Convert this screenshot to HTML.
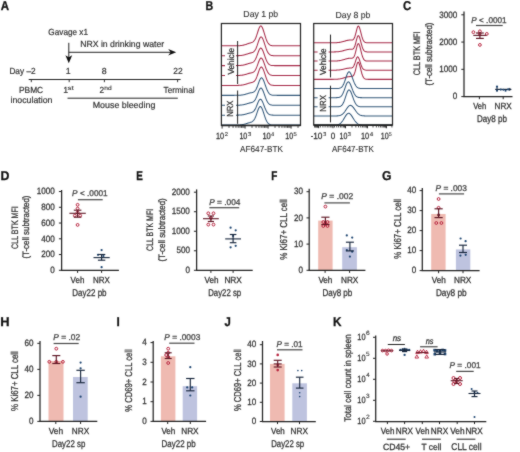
<!DOCTYPE html>
<html><head><meta charset="utf-8"><style>
html,body{margin:0;padding:0;background:#fff;width:520px;height:452px;overflow:hidden}
svg{display:block}
text{font-family:"Liberation Sans",sans-serif;text-rendering:geometricPrecision}
</style></head><body>
<svg width="520" height="452" viewBox="0 0 520 452">
<defs><filter id="soft" x="0" y="0" width="520" height="452" filterUnits="userSpaceOnUse" color-interpolation-filters="sRGB"><feConvolveMatrix order="3" kernelMatrix="1 2 1 2 20 2 1 2 1" edgeMode="duplicate"/></filter></defs>
<g filter="url(#soft)">
<rect width="520" height="452" fill="#fff"/>
<text x="0.71" y="10.30" font-size="12.8" fill="#111" stroke="#111" stroke-width="0.28" textLength="8.30" lengthAdjust="spacingAndGlyphs" font-weight="bold" >A</text>
<text x="48.34" y="34.70" font-size="8.8" fill="#333" stroke="#333" stroke-width="0.2" textLength="39.69" lengthAdjust="spacingAndGlyphs" >Gavage x1</text>
<text x="80.15" y="47.10" font-size="8.8" fill="#333" stroke="#333" stroke-width="0.2" textLength="84.03" lengthAdjust="spacingAndGlyphs" >NRX in drinking water</text>
<line x1="68.80" y1="42.80" x2="68.80" y2="58.50" stroke="#222" stroke-width="1.0" />
<path d="M65.4,55.3 L68.8,57.2 L72.2,55.3 L68.8,63.2 Z" fill="#111"/>
<line x1="68.80" y1="52.30" x2="171.00" y2="52.30" stroke="#222" stroke-width="1.0" />
<path d="M168.2,49.1 L170.6,52.3 L168.2,55.5 L176.2,52.3 Z" fill="#111"/>
<text x="9.39" y="74.00" font-size="8.8" fill="#333" stroke="#333" stroke-width="0.2" textLength="26.20" lengthAdjust="spacingAndGlyphs" >Day –2</text>
<text x="65.73" y="74.10" font-size="8.8" fill="#333" stroke="#333" stroke-width="0.2" textLength="4.89" lengthAdjust="spacingAndGlyphs">1</text>
<text x="101.64" y="74.10" font-size="8.8" fill="#333" stroke="#333" stroke-width="0.2" textLength="4.89" lengthAdjust="spacingAndGlyphs">8</text>
<text x="173.33" y="74.10" font-size="8.8" fill="#333" stroke="#333" stroke-width="0.2" textLength="9.36" lengthAdjust="spacingAndGlyphs" >22</text>
<line x1="28.70" y1="79.50" x2="180.60" y2="79.50" stroke="#222" stroke-width="1.0" />
<line x1="31.30" y1="79.50" x2="31.30" y2="82.20" stroke="#222" stroke-width="0.9" />
<line x1="69.20" y1="79.50" x2="69.20" y2="82.20" stroke="#222" stroke-width="0.9" />
<line x1="104.40" y1="79.50" x2="104.40" y2="82.20" stroke="#222" stroke-width="0.9" />
<line x1="177.60" y1="79.50" x2="177.60" y2="82.20" stroke="#222" stroke-width="0.9" />
<text x="18.98" y="92.90" font-size="8.8" fill="#333" stroke="#333" stroke-width="0.2" textLength="24.20" lengthAdjust="spacingAndGlyphs" >PBMC</text>
<text x="10.48" y="102.90" font-size="8.8" fill="#333" stroke="#333" stroke-width="0.2" textLength="41.95" lengthAdjust="spacingAndGlyphs" >inoculation</text>
<text x="63.33" y="92.60" font-size="8.8" fill="#333" stroke="#333" stroke-width="0.2" textLength="4.89" lengthAdjust="spacingAndGlyphs">1</text>
<text x="67.61" y="89.60" font-size="6.0" fill="#333" stroke="#333" stroke-width="0.12" textLength="6.10" lengthAdjust="spacingAndGlyphs" >st</text>
<text x="99.43" y="92.60" font-size="8.8" fill="#333" stroke="#333" stroke-width="0.2" textLength="4.64" lengthAdjust="spacingAndGlyphs" >2</text>
<text x="104.22" y="89.60" font-size="6.0" fill="#333" stroke="#333" stroke-width="0.12" textLength="7.38" lengthAdjust="spacingAndGlyphs" >nd</text>
<text x="163.59" y="92.80" font-size="8.8" fill="#333" stroke="#333" stroke-width="0.2" textLength="30.93" lengthAdjust="spacingAndGlyphs" >Terminal</text>
<line x1="67.50" y1="98.20" x2="177.80" y2="98.20" stroke="#222" stroke-width="1.0" />
<text x="92.74" y="108.30" font-size="8.8" fill="#333" stroke="#333" stroke-width="0.2" textLength="62.59" lengthAdjust="spacingAndGlyphs" >Mouse bleeding</text>
<text x="205.51" y="10.30" font-size="12.8" fill="#111" stroke="#111" stroke-width="0.28" textLength="7.70" lengthAdjust="spacingAndGlyphs" font-weight="bold" >B</text>
<text x="243.35" y="17.40" font-size="8.8" fill="#333" stroke="#333" stroke-width="0.12" textLength="34.87" lengthAdjust="spacingAndGlyphs" >Day 1 pb</text>
<text x="335.55" y="17.50" font-size="8.8" fill="#333" stroke="#333" stroke-width="0.12" textLength="34.87" lengthAdjust="spacingAndGlyphs" >Day 8 pb</text>
<path d="M222.00,45.80 L222.50,45.80 L223.00,45.80 L223.50,45.80 L224.00,45.80 L224.50,45.80 L225.00,45.80 L225.50,45.80 L226.00,45.80 L226.50,45.80 L227.00,45.80 L227.50,45.80 L228.00,45.80 L228.50,45.80 L229.00,45.80 L229.50,45.80 L230.00,45.80 L230.50,45.80 L231.00,45.80 L231.50,45.80 L232.00,45.80 L232.50,45.80 L233.00,45.80 L233.50,45.80 L234.00,45.80 L234.50,45.79 L235.00,45.79 L235.50,45.79 L236.00,45.78 L236.50,45.78 L237.00,45.77 L237.50,45.76 L238.00,45.74 L238.50,45.72 L239.00,45.70 L239.50,45.67 L240.00,45.64 L240.50,45.59 L241.00,45.54 L241.50,45.48 L242.00,45.41 L242.50,45.32 L243.00,45.23 L243.50,45.12 L244.00,45.00 L244.50,44.86 L245.00,44.71 L245.50,44.56 L246.00,44.39 L246.50,44.22 L247.00,44.04 L247.50,43.86 L248.00,43.69 L248.50,43.52 L249.00,43.35 L249.50,43.20 L250.00,43.05 L250.50,42.90 L251.00,42.75 L251.50,42.59 L252.00,42.40 L252.50,42.16 L253.00,41.86 L253.50,41.47 L254.00,40.96 L254.50,40.30 L255.00,39.48 L255.50,38.47 L256.00,37.29 L256.50,35.93 L257.00,34.44 L257.50,32.87 L258.00,31.27 L258.50,29.74 L259.00,28.36 L259.50,27.22 L260.00,26.40 L260.50,25.96 L261.00,25.93 L261.50,26.29 L262.00,26.99 L262.50,28.00 L263.00,29.26 L263.50,30.73 L264.00,32.32 L264.50,33.97 L265.00,35.61 L265.50,37.19 L266.00,38.67 L266.50,40.00 L267.00,41.17 L267.50,42.18 L268.00,43.02 L268.50,43.71 L269.00,44.26 L269.50,44.68 L270.00,45.00 L270.50,45.25 L271.00,45.42 L271.50,45.55 L272.00,45.63 L272.50,45.69 L273.00,45.73 L273.50,45.76 L274.00,45.77 L274.50,45.78 L275.00,45.79 L275.50,45.79 L276.00,45.80 L276.50,45.80 L277.00,45.80 L277.50,45.80 L278.00,45.80 L278.50,45.80 L279.00,45.80 L279.50,45.80 L280.00,45.80 L280.50,45.80 L281.00,45.80 L281.50,45.80 L282.00,45.80 L282.50,45.80 L283.00,45.80 L283.50,45.80 L284.00,45.80 L284.50,45.80 L285.00,45.80 L285.50,45.80 L286.00,45.80 L286.50,45.80 L287.00,45.80 L287.50,45.80 L288.00,45.80 L288.50,45.80 L289.00,45.80 L289.50,45.80 L290.00,45.80 L290.50,45.80 L291.00,45.80 L291.50,45.80 L292.00,45.80 L292.50,45.80 L293.00,45.80 L293.50,45.80 L294.00,45.80 L294.50,45.80 L295.00,45.80 L295.50,45.80 L296.00,45.80 L296.50,45.80 L297.00,45.80 L297.50,45.80 L298.00,45.80 L298.50,45.80 L299.00,45.80 L299.50,45.80 L300.00,45.80" fill="none" stroke="#a62a48" stroke-width="1.05" stroke-linejoin="round"/>
<path d="M222.00,55.71 L222.50,55.71 L223.00,55.71 L223.50,55.71 L224.00,55.71 L224.50,55.71 L225.00,55.71 L225.50,55.71 L226.00,55.71 L226.50,55.71 L227.00,55.71 L227.50,55.71 L228.00,55.71 L228.50,55.71 L229.00,55.71 L229.50,55.71 L230.00,55.71 L230.50,55.71 L231.00,55.71 L231.50,55.71 L232.00,55.71 L232.50,55.71 L233.00,55.71 L233.50,55.71 L234.00,55.71 L234.50,55.70 L235.00,55.70 L235.50,55.70 L236.00,55.69 L236.50,55.69 L237.00,55.68 L237.50,55.67 L238.00,55.66 L238.50,55.64 L239.00,55.62 L239.50,55.59 L240.00,55.56 L240.50,55.52 L241.00,55.47 L241.50,55.41 L242.00,55.34 L242.50,55.26 L243.00,55.17 L243.50,55.06 L244.00,54.95 L244.50,54.82 L245.00,54.68 L245.50,54.53 L246.00,54.37 L246.50,54.21 L247.00,54.04 L247.50,53.88 L248.00,53.71 L248.50,53.55 L249.00,53.40 L249.50,53.25 L250.00,53.12 L250.50,52.99 L251.00,52.87 L251.50,52.74 L252.00,52.59 L252.50,52.41 L253.00,52.18 L253.50,51.88 L254.00,51.48 L254.50,50.96 L255.00,50.28 L255.50,49.44 L256.00,48.43 L256.50,47.24 L257.00,45.90 L257.50,44.45 L258.00,42.94 L258.50,41.44 L259.00,40.03 L259.50,38.79 L260.00,37.82 L260.50,37.17 L261.00,36.90 L261.50,37.02 L262.00,37.48 L262.50,38.26 L263.00,39.32 L263.50,40.59 L264.00,42.03 L264.50,43.57 L265.00,45.13 L265.50,46.67 L266.00,48.13 L266.50,49.48 L267.00,50.68 L267.50,51.73 L268.00,52.62 L268.50,53.36 L269.00,53.95 L269.50,54.42 L270.00,54.78 L270.50,55.06 L271.00,55.26 L271.50,55.40 L272.00,55.51 L272.50,55.58 L273.00,55.62 L273.50,55.66 L274.00,55.68 L274.50,55.69 L275.00,55.70 L275.50,55.70 L276.00,55.71 L276.50,55.71 L277.00,55.71 L277.50,55.71 L278.00,55.71 L278.50,55.71 L279.00,55.71 L279.50,55.71 L280.00,55.71 L280.50,55.71 L281.00,55.71 L281.50,55.71 L282.00,55.71 L282.50,55.71 L283.00,55.71 L283.50,55.71 L284.00,55.71 L284.50,55.71 L285.00,55.71 L285.50,55.71 L286.00,55.71 L286.50,55.71 L287.00,55.71 L287.50,55.71 L288.00,55.71 L288.50,55.71 L289.00,55.71 L289.50,55.71 L290.00,55.71 L290.50,55.71 L291.00,55.71 L291.50,55.71 L292.00,55.71 L292.50,55.71 L293.00,55.71 L293.50,55.71 L294.00,55.71 L294.50,55.71 L295.00,55.71 L295.50,55.71 L296.00,55.71 L296.50,55.71 L297.00,55.71 L297.50,55.71 L298.00,55.71 L298.50,55.71 L299.00,55.71 L299.50,55.71 L300.00,55.71" fill="none" stroke="#a62a48" stroke-width="1.05" stroke-linejoin="round"/>
<path d="M222.00,65.62 L222.50,65.62 L223.00,65.62 L223.50,65.62 L224.00,65.62 L224.50,65.62 L225.00,65.62 L225.50,65.62 L226.00,65.62 L226.50,65.62 L227.00,65.62 L227.50,65.62 L228.00,65.62 L228.50,65.62 L229.00,65.62 L229.50,65.62 L230.00,65.62 L230.50,65.62 L231.00,65.62 L231.50,65.62 L232.00,65.62 L232.50,65.62 L233.00,65.62 L233.50,65.62 L234.00,65.62 L234.50,65.61 L235.00,65.61 L235.50,65.61 L236.00,65.60 L236.50,65.60 L237.00,65.59 L237.50,65.58 L238.00,65.57 L238.50,65.55 L239.00,65.53 L239.50,65.51 L240.00,65.48 L240.50,65.44 L241.00,65.39 L241.50,65.34 L242.00,65.27 L242.50,65.20 L243.00,65.12 L243.50,65.02 L244.00,64.91 L244.50,64.79 L245.00,64.66 L245.50,64.52 L246.00,64.38 L246.50,64.23 L247.00,64.07 L247.50,63.91 L248.00,63.76 L248.50,63.61 L249.00,63.46 L249.50,63.33 L250.00,63.19 L250.50,63.06 L251.00,62.93 L251.50,62.79 L252.00,62.62 L252.50,62.42 L253.00,62.15 L253.50,61.81 L254.00,61.36 L254.50,60.78 L255.00,60.05 L255.50,59.17 L256.00,58.12 L256.50,56.93 L257.00,55.62 L257.50,54.23 L258.00,52.82 L258.50,51.48 L259.00,50.26 L259.50,49.26 L260.00,48.53 L260.50,48.14 L261.00,48.12 L261.50,48.44 L262.00,49.05 L262.50,49.94 L263.00,51.05 L263.50,52.34 L264.00,53.74 L264.50,55.20 L265.00,56.65 L265.50,58.04 L266.00,59.34 L266.50,60.51 L267.00,61.55 L267.50,62.43 L268.00,63.17 L268.50,63.78 L269.00,64.26 L269.50,64.63 L270.00,64.92 L270.50,65.13 L271.00,65.29 L271.50,65.40 L272.00,65.47 L272.50,65.52 L273.00,65.56 L273.50,65.58 L274.00,65.60 L274.50,65.61 L275.00,65.61 L275.50,65.62 L276.00,65.62 L276.50,65.62 L277.00,65.62 L277.50,65.62 L278.00,65.62 L278.50,65.62 L279.00,65.62 L279.50,65.62 L280.00,65.62 L280.50,65.62 L281.00,65.62 L281.50,65.62 L282.00,65.62 L282.50,65.62 L283.00,65.62 L283.50,65.62 L284.00,65.62 L284.50,65.62 L285.00,65.62 L285.50,65.62 L286.00,65.62 L286.50,65.62 L287.00,65.62 L287.50,65.62 L288.00,65.62 L288.50,65.62 L289.00,65.62 L289.50,65.62 L290.00,65.62 L290.50,65.62 L291.00,65.62 L291.50,65.62 L292.00,65.62 L292.50,65.62 L293.00,65.62 L293.50,65.62 L294.00,65.62 L294.50,65.62 L295.00,65.62 L295.50,65.62 L296.00,65.62 L296.50,65.62 L297.00,65.62 L297.50,65.62 L298.00,65.62 L298.50,65.62 L299.00,65.62 L299.50,65.62 L300.00,65.62" fill="none" stroke="#a62a48" stroke-width="1.05" stroke-linejoin="round"/>
<path d="M222.00,75.53 L222.50,75.53 L223.00,75.53 L223.50,75.53 L224.00,75.53 L224.50,75.53 L225.00,75.53 L225.50,75.53 L226.00,75.53 L226.50,75.53 L227.00,75.53 L227.50,75.53 L228.00,75.53 L228.50,75.53 L229.00,75.53 L229.50,75.53 L230.00,75.53 L230.50,75.53 L231.00,75.53 L231.50,75.53 L232.00,75.53 L232.50,75.53 L233.00,75.53 L233.50,75.53 L234.00,75.53 L234.50,75.52 L235.00,75.52 L235.50,75.52 L236.00,75.51 L236.50,75.51 L237.00,75.50 L237.50,75.49 L238.00,75.48 L238.50,75.46 L239.00,75.44 L239.50,75.42 L240.00,75.39 L240.50,75.35 L241.00,75.30 L241.50,75.25 L242.00,75.18 L242.50,75.11 L243.00,75.03 L243.50,74.93 L244.00,74.82 L244.50,74.70 L245.00,74.57 L245.50,74.43 L246.00,74.29 L246.50,74.14 L247.00,73.98 L247.50,73.83 L248.00,73.67 L248.50,73.52 L249.00,73.38 L249.50,73.25 L250.00,73.12 L250.50,73.00 L251.00,72.89 L251.50,72.77 L252.00,72.63 L252.50,72.47 L253.00,72.25 L253.50,71.97 L254.00,71.60 L254.50,71.12 L255.00,70.49 L255.50,69.71 L256.00,68.77 L256.50,67.66 L257.00,66.42 L257.50,65.07 L258.00,63.67 L258.50,62.27 L259.00,60.96 L259.50,59.81 L260.00,58.91 L260.50,58.31 L261.00,58.06 L261.50,58.17 L262.00,58.60 L262.50,59.32 L263.00,60.30 L263.50,61.49 L264.00,62.82 L264.50,64.25 L265.00,65.70 L265.50,67.13 L266.00,68.49 L266.50,69.74 L267.00,70.86 L267.50,71.83 L268.00,72.66 L268.50,73.34 L269.00,73.90 L269.50,74.33 L270.00,74.67 L270.50,74.92 L271.00,75.11 L271.50,75.25 L272.00,75.34 L272.50,75.41 L273.00,75.45 L273.50,75.48 L274.00,75.50 L274.50,75.51 L275.00,75.52 L275.50,75.52 L276.00,75.53 L276.50,75.53 L277.00,75.53 L277.50,75.53 L278.00,75.53 L278.50,75.53 L279.00,75.53 L279.50,75.53 L280.00,75.53 L280.50,75.53 L281.00,75.53 L281.50,75.53 L282.00,75.53 L282.50,75.53 L283.00,75.53 L283.50,75.53 L284.00,75.53 L284.50,75.53 L285.00,75.53 L285.50,75.53 L286.00,75.53 L286.50,75.53 L287.00,75.53 L287.50,75.53 L288.00,75.53 L288.50,75.53 L289.00,75.53 L289.50,75.53 L290.00,75.53 L290.50,75.53 L291.00,75.53 L291.50,75.53 L292.00,75.53 L292.50,75.53 L293.00,75.53 L293.50,75.53 L294.00,75.53 L294.50,75.53 L295.00,75.53 L295.50,75.53 L296.00,75.53 L296.50,75.53 L297.00,75.53 L297.50,75.53 L298.00,75.53 L298.50,75.53 L299.00,75.53 L299.50,75.53 L300.00,75.53" fill="none" stroke="#a62a48" stroke-width="1.05" stroke-linejoin="round"/>
<path d="M222.00,85.44 L222.50,85.44 L223.00,85.44 L223.50,85.44 L224.00,85.44 L224.50,85.44 L225.00,85.44 L225.50,85.44 L226.00,85.44 L226.50,85.44 L227.00,85.44 L227.50,85.44 L228.00,85.44 L228.50,85.44 L229.00,85.44 L229.50,85.44 L230.00,85.44 L230.50,85.44 L231.00,85.44 L231.50,85.44 L232.00,85.44 L232.50,85.44 L233.00,85.44 L233.50,85.44 L234.00,85.44 L234.50,85.43 L235.00,85.43 L235.50,85.43 L236.00,85.42 L236.50,85.42 L237.00,85.41 L237.50,85.40 L238.00,85.39 L238.50,85.37 L239.00,85.35 L239.50,85.32 L240.00,85.29 L240.50,85.25 L241.00,85.20 L241.50,85.14 L242.00,85.07 L242.50,85.00 L243.00,84.91 L243.50,84.80 L244.00,84.69 L244.50,84.56 L245.00,84.43 L245.50,84.28 L246.00,84.13 L246.50,83.96 L247.00,83.80 L247.50,83.64 L248.00,83.47 L248.50,83.32 L249.00,83.17 L249.50,83.03 L250.00,82.90 L250.50,82.78 L251.00,82.67 L251.50,82.55 L252.00,82.43 L252.50,82.28 L253.00,82.09 L253.50,81.83 L254.00,81.49 L254.50,81.03 L255.00,80.44 L255.50,79.69 L256.00,78.76 L256.50,77.66 L257.00,76.40 L257.50,75.01 L258.00,73.54 L258.50,72.05 L259.00,70.61 L259.50,69.31 L260.00,68.24 L260.50,67.46 L261.00,67.04 L261.50,67.00 L262.00,67.32 L262.50,67.96 L263.00,68.89 L263.50,70.06 L264.00,71.42 L264.50,72.90 L265.00,74.43 L265.50,75.96 L266.00,77.43 L266.50,78.80 L267.00,80.04 L267.50,81.13 L268.00,82.07 L268.50,82.85 L269.00,83.49 L269.50,84.00 L270.00,84.40 L270.50,84.70 L271.00,84.92 L271.50,85.09 L272.00,85.20 L272.50,85.28 L273.00,85.34 L273.50,85.38 L274.00,85.40 L274.50,85.42 L275.00,85.43 L275.50,85.43 L276.00,85.44 L276.50,85.44 L277.00,85.44 L277.50,85.44 L278.00,85.44 L278.50,85.44 L279.00,85.44 L279.50,85.44 L280.00,85.44 L280.50,85.44 L281.00,85.44 L281.50,85.44 L282.00,85.44 L282.50,85.44 L283.00,85.44 L283.50,85.44 L284.00,85.44 L284.50,85.44 L285.00,85.44 L285.50,85.44 L286.00,85.44 L286.50,85.44 L287.00,85.44 L287.50,85.44 L288.00,85.44 L288.50,85.44 L289.00,85.44 L289.50,85.44 L290.00,85.44 L290.50,85.44 L291.00,85.44 L291.50,85.44 L292.00,85.44 L292.50,85.44 L293.00,85.44 L293.50,85.44 L294.00,85.44 L294.50,85.44 L295.00,85.44 L295.50,85.44 L296.00,85.44 L296.50,85.44 L297.00,85.44 L297.50,85.44 L298.00,85.44 L298.50,85.44 L299.00,85.44 L299.50,85.44 L300.00,85.44" fill="none" stroke="#a62a48" stroke-width="1.05" stroke-linejoin="round"/>
<path d="M222.00,95.35 L222.50,95.35 L223.00,95.35 L223.50,95.35 L224.00,95.35 L224.50,95.35 L225.00,95.35 L225.50,95.35 L226.00,95.35 L226.50,95.35 L227.00,95.35 L227.50,95.35 L228.00,95.35 L228.50,95.35 L229.00,95.35 L229.50,95.35 L230.00,95.35 L230.50,95.35 L231.00,95.35 L231.50,95.35 L232.00,95.35 L232.50,95.35 L233.00,95.35 L233.50,95.35 L234.00,95.35 L234.50,95.34 L235.00,95.34 L235.50,95.34 L236.00,95.33 L236.50,95.33 L237.00,95.32 L237.50,95.31 L238.00,95.30 L238.50,95.28 L239.00,95.26 L239.50,95.24 L240.00,95.21 L240.50,95.17 L241.00,95.12 L241.50,95.07 L242.00,95.00 L242.50,94.93 L243.00,94.84 L243.50,94.75 L244.00,94.64 L244.50,94.52 L245.00,94.39 L245.50,94.25 L246.00,94.10 L246.50,93.95 L247.00,93.79 L247.50,93.64 L248.00,93.48 L248.50,93.34 L249.00,93.20 L249.50,93.07 L250.00,92.95 L250.50,92.84 L251.00,92.74 L251.50,92.64 L252.00,92.54 L252.50,92.42 L253.00,92.26 L253.50,92.06 L254.00,91.78 L254.50,91.40 L255.00,90.89 L255.50,90.24 L256.00,89.44 L256.50,88.46 L257.00,87.32 L257.50,86.05 L258.00,84.67 L258.50,83.25 L259.00,81.85 L259.50,80.55 L260.00,79.43 L260.50,78.57 L261.00,78.02 L261.50,77.84 L262.00,78.01 L262.50,78.49 L263.00,79.27 L263.50,80.29 L264.00,81.51 L264.50,82.88 L265.00,84.32 L265.50,85.77 L266.00,87.20 L266.50,88.54 L267.00,89.77 L267.50,90.86 L268.00,91.81 L268.50,92.61 L269.00,93.27 L269.50,93.81 L270.00,94.22 L270.50,94.54 L271.00,94.78 L271.50,94.96 L272.00,95.09 L272.50,95.17 L273.00,95.24 L273.50,95.28 L274.00,95.30 L274.50,95.32 L275.00,95.33 L275.50,95.34 L276.00,95.34 L276.50,95.35 L277.00,95.35 L277.50,95.35 L278.00,95.35 L278.50,95.35 L279.00,95.35 L279.50,95.35 L280.00,95.35 L280.50,95.35 L281.00,95.35 L281.50,95.35 L282.00,95.35 L282.50,95.35 L283.00,95.35 L283.50,95.35 L284.00,95.35 L284.50,95.35 L285.00,95.35 L285.50,95.35 L286.00,95.35 L286.50,95.35 L287.00,95.35 L287.50,95.35 L288.00,95.35 L288.50,95.35 L289.00,95.35 L289.50,95.35 L290.00,95.35 L290.50,95.35 L291.00,95.35 L291.50,95.35 L292.00,95.35 L292.50,95.35 L293.00,95.35 L293.50,95.35 L294.00,95.35 L294.50,95.35 L295.00,95.35 L295.50,95.35 L296.00,95.35 L296.50,95.35 L297.00,95.35 L297.50,95.35 L298.00,95.35 L298.50,95.35 L299.00,95.35 L299.50,95.35 L300.00,95.35" fill="none" stroke="#33587a" stroke-width="1.05" stroke-linejoin="round"/>
<path d="M222.00,105.26 L222.50,105.26 L223.00,105.26 L223.50,105.26 L224.00,105.26 L224.50,105.26 L225.00,105.26 L225.50,105.26 L226.00,105.26 L226.50,105.26 L227.00,105.26 L227.50,105.26 L228.00,105.26 L228.50,105.26 L229.00,105.26 L229.50,105.26 L230.00,105.26 L230.50,105.26 L231.00,105.26 L231.50,105.26 L232.00,105.26 L232.50,105.26 L233.00,105.26 L233.50,105.26 L234.00,105.26 L234.50,105.25 L235.00,105.25 L235.50,105.25 L236.00,105.25 L236.50,105.24 L237.00,105.23 L237.50,105.22 L238.00,105.21 L238.50,105.19 L239.00,105.17 L239.50,105.15 L240.00,105.12 L240.50,105.08 L241.00,105.04 L241.50,104.98 L242.00,104.92 L242.50,104.85 L243.00,104.76 L243.50,104.67 L244.00,104.56 L244.50,104.45 L245.00,104.32 L245.50,104.18 L246.00,104.04 L246.50,103.89 L247.00,103.74 L247.50,103.59 L248.00,103.43 L248.50,103.29 L249.00,103.15 L249.50,103.01 L250.00,102.88 L250.50,102.76 L251.00,102.64 L251.50,102.50 L252.00,102.35 L252.50,102.16 L253.00,101.92 L253.50,101.60 L254.00,101.19 L254.50,100.65 L255.00,99.97 L255.50,99.14 L256.00,98.14 L256.50,97.00 L257.00,95.73 L257.50,94.38 L258.00,92.99 L258.50,91.65 L259.00,90.42 L259.50,89.39 L260.00,88.61 L260.50,88.16 L261.00,88.06 L261.50,88.31 L262.00,88.85 L262.50,89.67 L263.00,90.73 L263.50,91.96 L264.00,93.32 L264.50,94.74 L265.00,96.17 L265.50,97.55 L266.00,98.84 L266.50,100.02 L267.00,101.07 L267.50,101.97 L268.00,102.72 L268.50,103.34 L269.00,103.84 L269.50,104.23 L270.00,104.52 L270.50,104.74 L271.00,104.91 L271.50,105.02 L272.00,105.10 L272.50,105.16 L273.00,105.20 L273.50,105.22 L274.00,105.24 L274.50,105.25 L275.00,105.25 L275.50,105.25 L276.00,105.26 L276.50,105.26 L277.00,105.26 L277.50,105.26 L278.00,105.26 L278.50,105.26 L279.00,105.26 L279.50,105.26 L280.00,105.26 L280.50,105.26 L281.00,105.26 L281.50,105.26 L282.00,105.26 L282.50,105.26 L283.00,105.26 L283.50,105.26 L284.00,105.26 L284.50,105.26 L285.00,105.26 L285.50,105.26 L286.00,105.26 L286.50,105.26 L287.00,105.26 L287.50,105.26 L288.00,105.26 L288.50,105.26 L289.00,105.26 L289.50,105.26 L290.00,105.26 L290.50,105.26 L291.00,105.26 L291.50,105.26 L292.00,105.26 L292.50,105.26 L293.00,105.26 L293.50,105.26 L294.00,105.26 L294.50,105.26 L295.00,105.26 L295.50,105.26 L296.00,105.26 L296.50,105.26 L297.00,105.26 L297.50,105.26 L298.00,105.26 L298.50,105.26 L299.00,105.26 L299.50,105.26 L300.00,105.26" fill="none" stroke="#33587a" stroke-width="1.05" stroke-linejoin="round"/>
<path d="M222.00,115.17 L222.50,115.17 L223.00,115.17 L223.50,115.17 L224.00,115.17 L224.50,115.17 L225.00,115.17 L225.50,115.17 L226.00,115.17 L226.50,115.17 L227.00,115.17 L227.50,115.17 L228.00,115.17 L228.50,115.17 L229.00,115.17 L229.50,115.17 L230.00,115.17 L230.50,115.17 L231.00,115.17 L231.50,115.17 L232.00,115.17 L232.50,115.17 L233.00,115.17 L233.50,115.17 L234.00,115.17 L234.50,115.16 L235.00,115.16 L235.50,115.16 L236.00,115.16 L236.50,115.15 L237.00,115.14 L237.50,115.14 L238.00,115.12 L238.50,115.11 L239.00,115.09 L239.50,115.07 L240.00,115.04 L240.50,115.01 L241.00,114.96 L241.50,114.92 L242.00,114.86 L242.50,114.79 L243.00,114.71 L243.50,114.63 L244.00,114.53 L244.50,114.42 L245.00,114.30 L245.50,114.18 L246.00,114.04 L246.50,113.91 L247.00,113.77 L247.50,113.62 L248.00,113.48 L248.50,113.34 L249.00,113.21 L249.50,113.07 L250.00,112.94 L250.50,112.81 L251.00,112.66 L251.50,112.50 L252.00,112.30 L252.50,112.06 L253.00,111.74 L253.50,111.34 L254.00,110.82 L254.50,110.18 L255.00,109.40 L255.50,108.48 L256.00,107.41 L256.50,106.24 L257.00,104.99 L257.50,103.72 L258.00,102.49 L258.50,101.36 L259.00,100.41 L259.50,99.71 L260.00,99.30 L260.50,99.23 L261.00,99.46 L261.50,99.97 L262.00,100.74 L262.50,101.72 L263.00,102.86 L263.50,104.12 L264.00,105.44 L264.50,106.76 L265.00,108.04 L265.50,109.24 L266.00,110.33 L266.50,111.30 L267.00,112.13 L267.50,112.83 L268.00,113.40 L268.50,113.86 L269.00,114.21 L269.50,114.49 L270.00,114.69 L270.50,114.84 L271.00,114.95 L271.50,115.02 L272.00,115.08 L272.50,115.11 L273.00,115.13 L273.50,115.15 L274.00,115.16 L274.50,115.16 L275.00,115.17 L275.50,115.17 L276.00,115.17 L276.50,115.17 L277.00,115.17 L277.50,115.17 L278.00,115.17 L278.50,115.17 L279.00,115.17 L279.50,115.17 L280.00,115.17 L280.50,115.17 L281.00,115.17 L281.50,115.17 L282.00,115.17 L282.50,115.17 L283.00,115.17 L283.50,115.17 L284.00,115.17 L284.50,115.17 L285.00,115.17 L285.50,115.17 L286.00,115.17 L286.50,115.17 L287.00,115.17 L287.50,115.17 L288.00,115.17 L288.50,115.17 L289.00,115.17 L289.50,115.17 L290.00,115.17 L290.50,115.17 L291.00,115.17 L291.50,115.17 L292.00,115.17 L292.50,115.17 L293.00,115.17 L293.50,115.17 L294.00,115.17 L294.50,115.17 L295.00,115.17 L295.50,115.17 L296.00,115.17 L296.50,115.17 L297.00,115.17 L297.50,115.17 L298.00,115.17 L298.50,115.17 L299.00,115.17 L299.50,115.17 L300.00,115.17" fill="none" stroke="#33587a" stroke-width="1.05" stroke-linejoin="round"/>
<path d="M222.00,125.08 L222.50,125.08 L223.00,125.08 L223.50,125.08 L224.00,125.08 L224.50,125.08 L225.00,125.08 L225.50,125.08 L226.00,125.08 L226.50,125.08 L227.00,125.08 L227.50,125.08 L228.00,125.08 L228.50,125.08 L229.00,125.08 L229.50,125.08 L230.00,125.08 L230.50,125.08 L231.00,125.08 L231.50,125.08 L232.00,125.08 L232.50,125.08 L233.00,125.08 L233.50,125.08 L234.00,125.08 L234.50,125.07 L235.00,125.07 L235.50,125.07 L236.00,125.06 L236.50,125.06 L237.00,125.05 L237.50,125.04 L238.00,125.03 L238.50,125.01 L239.00,124.99 L239.50,124.96 L240.00,124.93 L240.50,124.89 L241.00,124.84 L241.50,124.78 L242.00,124.72 L242.50,124.64 L243.00,124.55 L243.50,124.45 L244.00,124.33 L244.50,124.21 L245.00,124.07 L245.50,123.93 L246.00,123.77 L246.50,123.61 L247.00,123.45 L247.50,123.28 L248.00,123.11 L248.50,122.95 L249.00,122.79 L249.50,122.63 L250.00,122.48 L250.50,122.31 L251.00,122.14 L251.50,121.94 L252.00,121.69 L252.50,121.39 L253.00,121.00 L253.50,120.50 L254.00,119.87 L254.50,119.09 L255.00,118.14 L255.50,117.03 L256.00,115.77 L256.50,114.39 L257.00,112.92 L257.50,111.45 L258.00,110.03 L258.50,108.76 L259.00,107.71 L259.50,106.96 L260.00,106.56 L260.50,106.55 L261.00,106.90 L261.50,107.55 L262.00,108.50 L262.50,109.68 L263.00,111.05 L263.50,112.53 L264.00,114.07 L264.50,115.60 L265.00,117.08 L265.50,118.45 L266.00,119.69 L266.50,120.78 L267.00,121.72 L267.50,122.50 L268.00,123.14 L268.50,123.64 L269.00,124.04 L269.50,124.34 L270.00,124.56 L270.50,124.73 L271.00,124.84 L271.50,124.92 L272.00,124.98 L272.50,125.02 L273.00,125.04 L273.50,125.06 L274.00,125.07 L274.50,125.07 L275.00,125.08 L275.50,125.08 L276.00,125.08 L276.50,125.08 L277.00,125.08 L277.50,125.08 L278.00,125.08 L278.50,125.08 L279.00,125.08 L279.50,125.08 L280.00,125.08 L280.50,125.08 L281.00,125.08 L281.50,125.08 L282.00,125.08 L282.50,125.08 L283.00,125.08 L283.50,125.08 L284.00,125.08 L284.50,125.08 L285.00,125.08 L285.50,125.08 L286.00,125.08 L286.50,125.08 L287.00,125.08 L287.50,125.08 L288.00,125.08 L288.50,125.08 L289.00,125.08 L289.50,125.08 L290.00,125.08 L290.50,125.08 L291.00,125.08 L291.50,125.08 L292.00,125.08 L292.50,125.08 L293.00,125.08 L293.50,125.08 L294.00,125.08 L294.50,125.08 L295.00,125.08 L295.50,125.08 L296.00,125.08 L296.50,125.08 L297.00,125.08 L297.50,125.08 L298.00,125.08 L298.50,125.08 L299.00,125.08 L299.50,125.08 L300.00,125.08" fill="none" stroke="#33587a" stroke-width="1.05" stroke-linejoin="round"/>
<path d="M314.00,42.80 L314.50,42.80 L315.00,42.80 L315.50,42.80 L316.00,42.80 L316.50,42.80 L317.00,42.80 L317.50,42.80 L318.00,42.80 L318.50,42.80 L319.00,42.80 L319.50,42.80 L320.00,42.80 L320.50,42.80 L321.00,42.80 L321.50,42.80 L322.00,42.80 L322.50,42.80 L323.00,42.80 L323.50,42.80 L324.00,42.80 L324.50,42.80 L325.00,42.80 L325.50,42.80 L326.00,42.80 L326.50,42.80 L327.00,42.80 L327.50,42.80 L328.00,42.80 L328.50,42.80 L329.00,42.80 L329.50,42.80 L330.00,42.80 L330.50,42.79 L331.00,42.79 L331.50,42.79 L332.00,42.79 L332.50,42.78 L333.00,42.78 L333.50,42.77 L334.00,42.76 L334.50,42.75 L335.00,42.73 L335.50,42.72 L336.00,42.69 L336.50,42.67 L337.00,42.63 L337.50,42.60 L338.00,42.55 L338.50,42.50 L339.00,42.43 L339.50,42.36 L340.00,42.28 L340.50,42.19 L341.00,42.09 L341.50,41.98 L342.00,41.86 L342.50,41.73 L343.00,41.60 L343.50,41.46 L344.00,41.31 L344.50,41.16 L345.00,41.01 L345.50,40.87 L346.00,40.73 L346.50,40.59 L347.00,40.47 L347.50,40.36 L348.00,40.27 L348.50,40.20 L349.00,40.14 L349.50,40.10 L350.00,40.09 L350.50,40.08 L351.00,40.09 L351.50,40.08 L352.00,40.04 L352.50,39.93 L353.00,39.69 L353.50,39.26 L354.00,38.57 L354.50,37.56 L355.00,36.20 L355.50,34.49 L356.00,32.54 L356.50,30.51 L357.00,28.61 L357.50,27.11 L358.00,26.22 L358.50,26.09 L359.00,26.64 L359.50,27.76 L360.00,29.33 L360.50,31.19 L361.00,33.18 L361.50,35.13 L362.00,36.91 L362.50,38.45 L363.00,39.71 L363.50,40.68 L364.00,41.40 L364.50,41.91 L365.00,42.25 L365.50,42.47 L366.00,42.60 L366.50,42.69 L367.00,42.73 L367.50,42.76 L368.00,42.78 L368.50,42.79 L369.00,42.79 L369.50,42.79 L370.00,42.80 L370.50,42.80 L371.00,42.80 L371.50,42.80 L372.00,42.80 L372.50,42.80 L373.00,42.80 L373.50,42.80 L374.00,42.80 L374.50,42.80 L375.00,42.80 L375.50,42.80 L376.00,42.80 L376.50,42.80 L377.00,42.80 L377.50,42.80 L378.00,42.80 L378.50,42.80 L379.00,42.80 L379.50,42.80 L380.00,42.80 L380.50,42.80 L381.00,42.80 L381.50,42.80 L382.00,42.80 L382.50,42.80 L383.00,42.80 L383.50,42.80 L384.00,42.80 L384.50,42.80 L385.00,42.80 L385.50,42.80 L386.00,42.80 L386.50,42.80 L387.00,42.80 L387.50,42.80 L388.00,42.80 L388.50,42.80 L389.00,42.80 L389.50,42.80 L390.00,42.80 L390.50,42.80 L391.00,42.80 L391.50,42.80 L392.00,42.80" fill="none" stroke="#a62a48" stroke-width="1.05" stroke-linejoin="round"/>
<path d="M314.00,51.94 L314.50,51.94 L315.00,51.94 L315.50,51.94 L316.00,51.94 L316.50,51.94 L317.00,51.94 L317.50,51.94 L318.00,51.94 L318.50,51.94 L319.00,51.94 L319.50,51.94 L320.00,51.94 L320.50,51.94 L321.00,51.94 L321.50,51.94 L322.00,51.94 L322.50,51.94 L323.00,51.94 L323.50,51.94 L324.00,51.94 L324.50,51.94 L325.00,51.94 L325.50,51.94 L326.00,51.94 L326.50,51.94 L327.00,51.94 L327.50,51.94 L328.00,51.94 L328.50,51.94 L329.00,51.94 L329.50,51.94 L330.00,51.94 L330.50,51.94 L331.00,51.94 L331.50,51.93 L332.00,51.93 L332.50,51.93 L333.00,51.92 L333.50,51.91 L334.00,51.91 L334.50,51.89 L335.00,51.88 L335.50,51.86 L336.00,51.84 L336.50,51.81 L337.00,51.78 L337.50,51.74 L338.00,51.70 L338.50,51.65 L339.00,51.59 L339.50,51.52 L340.00,51.44 L340.50,51.35 L341.00,51.25 L341.50,51.15 L342.00,51.03 L342.50,50.90 L343.00,50.77 L343.50,50.63 L344.00,50.49 L344.50,50.35 L345.00,50.20 L345.50,50.06 L346.00,49.92 L346.50,49.79 L347.00,49.67 L347.50,49.57 L348.00,49.48 L348.50,49.40 L349.00,49.35 L349.50,49.32 L350.00,49.30 L350.50,49.30 L351.00,49.30 L351.50,49.29 L352.00,49.25 L352.50,49.14 L353.00,48.91 L353.50,48.49 L354.00,47.82 L354.50,46.84 L355.00,45.51 L355.50,43.84 L356.00,41.94 L356.50,39.96 L357.00,38.11 L357.50,36.65 L358.00,35.78 L358.50,35.66 L359.00,36.19 L359.50,37.28 L360.00,38.81 L360.50,40.63 L361.00,42.56 L361.50,44.46 L362.00,46.20 L362.50,47.71 L363.00,48.93 L363.50,49.88 L364.00,50.58 L364.50,51.07 L365.00,51.40 L365.50,51.62 L366.00,51.75 L366.50,51.83 L367.00,51.88 L367.50,51.91 L368.00,51.92 L368.50,51.93 L369.00,51.94 L369.50,51.94 L370.00,51.94 L370.50,51.94 L371.00,51.94 L371.50,51.94 L372.00,51.94 L372.50,51.94 L373.00,51.94 L373.50,51.94 L374.00,51.94 L374.50,51.94 L375.00,51.94 L375.50,51.94 L376.00,51.94 L376.50,51.94 L377.00,51.94 L377.50,51.94 L378.00,51.94 L378.50,51.94 L379.00,51.94 L379.50,51.94 L380.00,51.94 L380.50,51.94 L381.00,51.94 L381.50,51.94 L382.00,51.94 L382.50,51.94 L383.00,51.94 L383.50,51.94 L384.00,51.94 L384.50,51.94 L385.00,51.94 L385.50,51.94 L386.00,51.94 L386.50,51.94 L387.00,51.94 L387.50,51.94 L388.00,51.94 L388.50,51.94 L389.00,51.94 L389.50,51.94 L390.00,51.94 L390.50,51.94 L391.00,51.94 L391.50,51.94 L392.00,51.94" fill="none" stroke="#a62a48" stroke-width="1.05" stroke-linejoin="round"/>
<path d="M314.00,61.09 L314.50,61.09 L315.00,61.09 L315.50,61.09 L316.00,61.09 L316.50,61.09 L317.00,61.09 L317.50,61.09 L318.00,61.09 L318.50,61.09 L319.00,61.09 L319.50,61.09 L320.00,61.09 L320.50,61.09 L321.00,61.09 L321.50,61.09 L322.00,61.09 L322.50,61.09 L323.00,61.09 L323.50,61.09 L324.00,61.09 L324.50,61.09 L325.00,61.09 L325.50,61.09 L326.00,61.09 L326.50,61.09 L327.00,61.09 L327.50,61.09 L328.00,61.09 L328.50,61.09 L329.00,61.09 L329.50,61.09 L330.00,61.08 L330.50,61.08 L331.00,61.08 L331.50,61.08 L332.00,61.07 L332.50,61.07 L333.00,61.06 L333.50,61.06 L334.00,61.05 L334.50,61.03 L335.00,61.02 L335.50,61.00 L336.00,60.98 L336.50,60.95 L337.00,60.92 L337.50,60.87 L338.00,60.83 L338.50,60.77 L339.00,60.71 L339.50,60.63 L340.00,60.55 L340.50,60.45 L341.00,60.35 L341.50,60.23 L342.00,60.11 L342.50,59.97 L343.00,59.83 L343.50,59.68 L344.00,59.53 L344.50,59.38 L345.00,59.22 L345.50,59.07 L346.00,58.92 L346.50,58.78 L347.00,58.66 L347.50,58.54 L348.00,58.45 L348.50,58.37 L349.00,58.31 L349.50,58.27 L350.00,58.25 L350.50,58.25 L351.00,58.25 L351.50,58.25 L352.00,58.21 L352.50,58.09 L353.00,57.84 L353.50,57.39 L354.00,56.68 L354.50,55.62 L355.00,54.19 L355.50,52.41 L356.00,50.38 L356.50,48.25 L357.00,46.28 L357.50,44.71 L358.00,43.78 L358.50,43.65 L359.00,44.22 L359.50,45.38 L360.00,47.02 L360.50,48.97 L361.00,51.04 L361.50,53.08 L362.00,54.94 L362.50,56.55 L363.00,57.86 L363.50,58.88 L364.00,59.63 L364.50,60.15 L365.00,60.51 L365.50,60.74 L366.00,60.88 L366.50,60.97 L367.00,61.02 L367.50,61.05 L368.00,61.06 L368.50,61.07 L369.00,61.08 L369.50,61.08 L370.00,61.08 L370.50,61.09 L371.00,61.09 L371.50,61.09 L372.00,61.09 L372.50,61.09 L373.00,61.09 L373.50,61.09 L374.00,61.09 L374.50,61.09 L375.00,61.09 L375.50,61.09 L376.00,61.09 L376.50,61.09 L377.00,61.09 L377.50,61.09 L378.00,61.09 L378.50,61.09 L379.00,61.09 L379.50,61.09 L380.00,61.09 L380.50,61.09 L381.00,61.09 L381.50,61.09 L382.00,61.09 L382.50,61.09 L383.00,61.09 L383.50,61.09 L384.00,61.09 L384.50,61.09 L385.00,61.09 L385.50,61.09 L386.00,61.09 L386.50,61.09 L387.00,61.09 L387.50,61.09 L388.00,61.09 L388.50,61.09 L389.00,61.09 L389.50,61.09 L390.00,61.09 L390.50,61.09 L391.00,61.09 L391.50,61.09 L392.00,61.09" fill="none" stroke="#a62a48" stroke-width="1.05" stroke-linejoin="round"/>
<path d="M314.00,70.23 L314.50,70.23 L315.00,70.23 L315.50,70.23 L316.00,70.23 L316.50,70.23 L317.00,70.23 L317.50,70.23 L318.00,70.23 L318.50,70.23 L319.00,70.23 L319.50,70.23 L320.00,70.23 L320.50,70.23 L321.00,70.23 L321.50,70.23 L322.00,70.23 L322.50,70.23 L323.00,70.23 L323.50,70.23 L324.00,70.23 L324.50,70.23 L325.00,70.23 L325.50,70.23 L326.00,70.23 L326.50,70.23 L327.00,70.23 L327.50,70.23 L328.00,70.23 L328.50,70.23 L329.00,70.23 L329.50,70.23 L330.00,70.23 L330.50,70.23 L331.00,70.23 L331.50,70.22 L332.00,70.22 L332.50,70.22 L333.00,70.21 L333.50,70.21 L334.00,70.20 L334.50,70.19 L335.00,70.18 L335.50,70.17 L336.00,70.15 L336.50,70.13 L337.00,70.10 L337.50,70.07 L338.00,70.03 L338.50,69.99 L339.00,69.94 L339.50,69.89 L340.00,69.82 L340.50,69.75 L341.00,69.67 L341.50,69.58 L342.00,69.49 L342.50,69.39 L343.00,69.28 L343.50,69.17 L344.00,69.05 L344.50,68.93 L345.00,68.82 L345.50,68.70 L346.00,68.59 L346.50,68.48 L347.00,68.39 L347.50,68.30 L348.00,68.23 L348.50,68.17 L349.00,68.12 L349.50,68.09 L350.00,68.06 L350.50,68.04 L351.00,68.00 L351.50,67.93 L352.00,67.79 L352.50,67.53 L353.00,67.10 L353.50,66.45 L354.00,65.52 L354.50,64.32 L355.00,62.88 L355.50,61.29 L356.00,59.70 L356.50,58.31 L357.00,57.30 L357.50,56.84 L358.00,56.98 L358.50,57.61 L359.00,58.66 L359.50,60.03 L360.00,61.57 L360.50,63.16 L361.00,64.67 L361.50,66.02 L362.00,67.16 L362.50,68.08 L363.00,68.77 L363.50,69.27 L364.00,69.62 L364.50,69.85 L365.00,70.00 L365.50,70.09 L366.00,70.15 L366.50,70.18 L367.00,70.20 L367.50,70.21 L368.00,70.22 L368.50,70.22 L369.00,70.23 L369.50,70.23 L370.00,70.23 L370.50,70.23 L371.00,70.23 L371.50,70.23 L372.00,70.23 L372.50,70.23 L373.00,70.23 L373.50,70.23 L374.00,70.23 L374.50,70.23 L375.00,70.23 L375.50,70.23 L376.00,70.23 L376.50,70.23 L377.00,70.23 L377.50,70.23 L378.00,70.23 L378.50,70.23 L379.00,70.23 L379.50,70.23 L380.00,70.23 L380.50,70.23 L381.00,70.23 L381.50,70.23 L382.00,70.23 L382.50,70.23 L383.00,70.23 L383.50,70.23 L384.00,70.23 L384.50,70.23 L385.00,70.23 L385.50,70.23 L386.00,70.23 L386.50,70.23 L387.00,70.23 L387.50,70.23 L388.00,70.23 L388.50,70.23 L389.00,70.23 L389.50,70.23 L390.00,70.23 L390.50,70.23 L391.00,70.23 L391.50,70.23 L392.00,70.23" fill="none" stroke="#a62a48" stroke-width="1.05" stroke-linejoin="round"/>
<path d="M314.00,79.38 L314.50,79.38 L315.00,79.38 L315.50,79.38 L316.00,79.38 L316.50,79.38 L317.00,79.38 L317.50,79.38 L318.00,79.38 L318.50,79.38 L319.00,79.38 L319.50,79.38 L320.00,79.38 L320.50,79.38 L321.00,79.38 L321.50,79.38 L322.00,79.38 L322.50,79.38 L323.00,79.38 L323.50,79.38 L324.00,79.38 L324.50,79.38 L325.00,79.38 L325.50,79.38 L326.00,79.38 L326.50,79.38 L327.00,79.38 L327.50,79.38 L328.00,79.38 L328.50,79.37 L329.00,79.37 L329.50,79.37 L330.00,79.37 L330.50,79.37 L331.00,79.37 L331.50,79.37 L332.00,79.36 L332.50,79.36 L333.00,79.35 L333.50,79.35 L334.00,79.34 L334.50,79.32 L335.00,79.31 L335.50,79.29 L336.00,79.27 L336.50,79.24 L337.00,79.21 L337.50,79.17 L338.00,79.12 L338.50,79.06 L339.00,79.00 L339.50,78.93 L340.00,78.85 L340.50,78.75 L341.00,78.65 L341.50,78.54 L342.00,78.41 L342.50,78.28 L343.00,78.14 L343.50,78.00 L344.00,77.85 L344.50,77.70 L345.00,77.54 L345.50,77.39 L346.00,77.25 L346.50,77.11 L347.00,76.99 L347.50,76.88 L348.00,76.78 L348.50,76.71 L349.00,76.65 L349.50,76.61 L350.00,76.59 L350.50,76.58 L351.00,76.57 L351.50,76.55 L352.00,76.47 L352.50,76.31 L353.00,75.99 L353.50,75.45 L354.00,74.61 L354.50,73.43 L355.00,71.88 L355.50,70.02 L356.00,67.96 L356.50,65.90 L357.00,64.10 L357.50,62.79 L358.00,62.18 L358.50,62.35 L359.00,63.16 L359.50,64.51 L360.00,66.27 L360.50,68.25 L361.00,70.30 L361.50,72.24 L362.00,73.99 L362.50,75.45 L363.00,76.63 L363.50,77.52 L364.00,78.16 L364.50,78.61 L365.00,78.91 L365.50,79.09 L366.00,79.21 L366.50,79.28 L367.00,79.32 L367.50,79.34 L368.00,79.36 L368.50,79.36 L369.00,79.37 L369.50,79.37 L370.00,79.37 L370.50,79.37 L371.00,79.37 L371.50,79.37 L372.00,79.38 L372.50,79.38 L373.00,79.38 L373.50,79.38 L374.00,79.38 L374.50,79.38 L375.00,79.38 L375.50,79.38 L376.00,79.38 L376.50,79.38 L377.00,79.38 L377.50,79.38 L378.00,79.38 L378.50,79.38 L379.00,79.38 L379.50,79.38 L380.00,79.38 L380.50,79.38 L381.00,79.38 L381.50,79.38 L382.00,79.38 L382.50,79.38 L383.00,79.38 L383.50,79.38 L384.00,79.38 L384.50,79.38 L385.00,79.38 L385.50,79.38 L386.00,79.38 L386.50,79.38 L387.00,79.38 L387.50,79.38 L388.00,79.38 L388.50,79.38 L389.00,79.38 L389.50,79.38 L390.00,79.38 L390.50,79.38 L391.00,79.38 L391.50,79.38 L392.00,79.38" fill="none" stroke="#a62a48" stroke-width="1.05" stroke-linejoin="round"/>
<path d="M314.00,88.52 L314.50,88.52 L315.00,88.52 L315.50,88.52 L316.00,88.52 L316.50,88.52 L317.00,88.52 L317.50,88.52 L318.00,88.52 L318.50,88.52 L319.00,88.52 L319.50,88.52 L320.00,88.52 L320.50,88.52 L321.00,88.52 L321.50,88.52 L322.00,88.52 L322.50,88.52 L323.00,88.52 L323.50,88.52 L324.00,88.52 L324.50,88.52 L325.00,88.52 L325.50,88.52 L326.00,88.52 L326.50,88.52 L327.00,88.52 L327.50,88.52 L328.00,88.52 L328.50,88.52 L329.00,88.52 L329.50,88.52 L330.00,88.52 L330.50,88.52 L331.00,88.52 L331.50,88.52 L332.00,88.52 L332.50,88.52 L333.00,88.52 L333.50,88.52 L334.00,88.52 L334.50,88.52 L335.00,88.52 L335.50,88.52 L336.00,88.51 L336.50,88.51 L337.00,88.50 L337.50,88.48 L338.00,88.46 L338.50,88.41 L339.00,88.35 L339.50,88.26 L340.00,88.11 L340.50,87.91 L341.00,87.64 L341.50,87.26 L342.00,86.76 L342.50,86.12 L343.00,85.32 L343.50,84.36 L344.00,83.22 L344.50,81.93 L345.00,80.51 L345.50,79.00 L346.00,77.47 L346.50,75.99 L347.00,74.62 L347.50,73.46 L348.00,72.57 L348.50,72.01 L349.00,71.82 L349.50,71.98 L350.00,72.45 L350.50,73.21 L351.00,74.21 L351.50,75.40 L352.00,76.72 L352.50,78.11 L353.00,79.51 L353.50,80.87 L354.00,82.15 L354.50,83.32 L355.00,84.36 L355.50,85.25 L356.00,86.00 L356.50,86.61 L357.00,87.11 L357.50,87.49 L358.00,87.79 L358.50,88.01 L359.00,88.17 L359.50,88.28 L360.00,88.36 L360.50,88.42 L361.00,88.46 L361.50,88.48 L362.00,88.50 L362.50,88.51 L363.00,88.51 L363.50,88.51 L364.00,88.52 L364.50,88.52 L365.00,88.52 L365.50,88.52 L366.00,88.52 L366.50,88.52 L367.00,88.52 L367.50,88.52 L368.00,88.52 L368.50,88.52 L369.00,88.52 L369.50,88.52 L370.00,88.52 L370.50,88.52 L371.00,88.52 L371.50,88.52 L372.00,88.52 L372.50,88.52 L373.00,88.52 L373.50,88.52 L374.00,88.52 L374.50,88.52 L375.00,88.52 L375.50,88.52 L376.00,88.52 L376.50,88.52 L377.00,88.52 L377.50,88.52 L378.00,88.52 L378.50,88.52 L379.00,88.52 L379.50,88.52 L380.00,88.52 L380.50,88.52 L381.00,88.52 L381.50,88.52 L382.00,88.52 L382.50,88.52 L383.00,88.52 L383.50,88.52 L384.00,88.52 L384.50,88.52 L385.00,88.52 L385.50,88.52 L386.00,88.52 L386.50,88.52 L387.00,88.52 L387.50,88.52 L388.00,88.52 L388.50,88.52 L389.00,88.52 L389.50,88.52 L390.00,88.52 L390.50,88.52 L391.00,88.52 L391.50,88.52 L392.00,88.52" fill="none" stroke="#33587a" stroke-width="1.05" stroke-linejoin="round"/>
<path d="M314.00,97.66 L314.50,97.66 L315.00,97.66 L315.50,97.66 L316.00,97.66 L316.50,97.66 L317.00,97.66 L317.50,97.66 L318.00,97.66 L318.50,97.66 L319.00,97.66 L319.50,97.66 L320.00,97.66 L320.50,97.66 L321.00,97.66 L321.50,97.66 L322.00,97.66 L322.50,97.66 L323.00,97.66 L323.50,97.66 L324.00,97.66 L324.50,97.66 L325.00,97.66 L325.50,97.66 L326.00,97.66 L326.50,97.66 L327.00,97.66 L327.50,97.66 L328.00,97.66 L328.50,97.66 L329.00,97.66 L329.50,97.66 L330.00,97.66 L330.50,97.66 L331.00,97.66 L331.50,97.66 L332.00,97.66 L332.50,97.66 L333.00,97.66 L333.50,97.66 L334.00,97.66 L334.50,97.66 L335.00,97.66 L335.50,97.66 L336.00,97.65 L336.50,97.64 L337.00,97.62 L337.50,97.59 L338.00,97.54 L338.50,97.47 L339.00,97.37 L339.50,97.21 L340.00,97.00 L340.50,96.70 L341.00,96.30 L341.50,95.77 L342.00,95.11 L342.50,94.29 L343.00,93.31 L343.50,92.18 L344.00,90.90 L344.50,89.52 L345.00,88.08 L345.50,86.64 L346.00,85.27 L346.50,84.05 L347.00,83.04 L347.50,82.32 L348.00,81.93 L348.50,81.89 L349.00,82.16 L349.50,82.72 L350.00,83.53 L350.50,84.56 L351.00,85.74 L351.50,87.02 L352.00,88.35 L352.50,89.66 L353.00,90.93 L353.50,92.10 L354.00,93.15 L354.50,94.08 L355.00,94.87 L355.50,95.53 L356.00,96.06 L356.50,96.48 L357.00,96.81 L357.50,97.06 L358.00,97.25 L358.50,97.38 L359.00,97.47 L359.50,97.54 L360.00,97.58 L360.50,97.61 L361.00,97.63 L361.50,97.64 L362.00,97.65 L362.50,97.66 L363.00,97.66 L363.50,97.66 L364.00,97.66 L364.50,97.66 L365.00,97.66 L365.50,97.66 L366.00,97.66 L366.50,97.66 L367.00,97.66 L367.50,97.66 L368.00,97.66 L368.50,97.66 L369.00,97.66 L369.50,97.66 L370.00,97.66 L370.50,97.66 L371.00,97.66 L371.50,97.66 L372.00,97.66 L372.50,97.66 L373.00,97.66 L373.50,97.66 L374.00,97.66 L374.50,97.66 L375.00,97.66 L375.50,97.66 L376.00,97.66 L376.50,97.66 L377.00,97.66 L377.50,97.66 L378.00,97.66 L378.50,97.66 L379.00,97.66 L379.50,97.66 L380.00,97.66 L380.50,97.66 L381.00,97.66 L381.50,97.66 L382.00,97.66 L382.50,97.66 L383.00,97.66 L383.50,97.66 L384.00,97.66 L384.50,97.66 L385.00,97.66 L385.50,97.66 L386.00,97.66 L386.50,97.66 L387.00,97.66 L387.50,97.66 L388.00,97.66 L388.50,97.66 L389.00,97.66 L389.50,97.66 L390.00,97.66 L390.50,97.66 L391.00,97.66 L391.50,97.66 L392.00,97.66" fill="none" stroke="#33587a" stroke-width="1.05" stroke-linejoin="round"/>
<path d="M314.00,106.81 L314.50,106.81 L315.00,106.81 L315.50,106.81 L316.00,106.81 L316.50,106.81 L317.00,106.81 L317.50,106.81 L318.00,106.81 L318.50,106.81 L319.00,106.81 L319.50,106.81 L320.00,106.81 L320.50,106.81 L321.00,106.81 L321.50,106.81 L322.00,106.81 L322.50,106.81 L323.00,106.81 L323.50,106.81 L324.00,106.81 L324.50,106.81 L325.00,106.81 L325.50,106.81 L326.00,106.81 L326.50,106.81 L327.00,106.81 L327.50,106.81 L328.00,106.81 L328.50,106.81 L329.00,106.81 L329.50,106.81 L330.00,106.81 L330.50,106.81 L331.00,106.81 L331.50,106.81 L332.00,106.81 L332.50,106.81 L333.00,106.81 L333.50,106.81 L334.00,106.81 L334.50,106.81 L335.00,106.81 L335.50,106.80 L336.00,106.80 L336.50,106.80 L337.00,106.79 L337.50,106.77 L338.00,106.74 L338.50,106.70 L339.00,106.64 L339.50,106.54 L340.00,106.40 L340.50,106.20 L341.00,105.91 L341.50,105.53 L342.00,105.03 L342.50,104.38 L343.00,103.57 L343.50,102.59 L344.00,101.45 L344.50,100.14 L345.00,98.70 L345.50,97.18 L346.00,95.63 L346.50,94.12 L347.00,92.74 L347.50,91.57 L348.00,90.67 L348.50,90.10 L349.00,89.91 L349.50,90.07 L350.00,90.55 L350.50,91.31 L351.00,92.32 L351.50,93.53 L352.00,94.87 L352.50,96.27 L353.00,97.69 L353.50,99.07 L354.00,100.37 L354.50,101.55 L355.00,102.59 L355.50,103.50 L356.00,104.26 L356.50,104.88 L357.00,105.38 L357.50,105.77 L358.00,106.07 L358.50,106.29 L359.00,106.45 L359.50,106.57 L360.00,106.65 L360.50,106.71 L361.00,106.74 L361.50,106.77 L362.00,106.78 L362.50,106.79 L363.00,106.80 L363.50,106.80 L364.00,106.81 L364.50,106.81 L365.00,106.81 L365.50,106.81 L366.00,106.81 L366.50,106.81 L367.00,106.81 L367.50,106.81 L368.00,106.81 L368.50,106.81 L369.00,106.81 L369.50,106.81 L370.00,106.81 L370.50,106.81 L371.00,106.81 L371.50,106.81 L372.00,106.81 L372.50,106.81 L373.00,106.81 L373.50,106.81 L374.00,106.81 L374.50,106.81 L375.00,106.81 L375.50,106.81 L376.00,106.81 L376.50,106.81 L377.00,106.81 L377.50,106.81 L378.00,106.81 L378.50,106.81 L379.00,106.81 L379.50,106.81 L380.00,106.81 L380.50,106.81 L381.00,106.81 L381.50,106.81 L382.00,106.81 L382.50,106.81 L383.00,106.81 L383.50,106.81 L384.00,106.81 L384.50,106.81 L385.00,106.81 L385.50,106.81 L386.00,106.81 L386.50,106.81 L387.00,106.81 L387.50,106.81 L388.00,106.81 L388.50,106.81 L389.00,106.81 L389.50,106.81 L390.00,106.81 L390.50,106.81 L391.00,106.81 L391.50,106.81 L392.00,106.81" fill="none" stroke="#33587a" stroke-width="1.05" stroke-linejoin="round"/>
<path d="M314.00,115.95 L314.50,115.95 L315.00,115.95 L315.50,115.95 L316.00,115.95 L316.50,115.95 L317.00,115.95 L317.50,115.95 L318.00,115.95 L318.50,115.95 L319.00,115.95 L319.50,115.95 L320.00,115.95 L320.50,115.95 L321.00,115.95 L321.50,115.95 L322.00,115.95 L322.50,115.95 L323.00,115.95 L323.50,115.95 L324.00,115.95 L324.50,115.95 L325.00,115.95 L325.50,115.95 L326.00,115.95 L326.50,115.95 L327.00,115.95 L327.50,115.95 L328.00,115.95 L328.50,115.95 L329.00,115.95 L329.50,115.95 L330.00,115.95 L330.50,115.95 L331.00,115.95 L331.50,115.95 L332.00,115.95 L332.50,115.95 L333.00,115.95 L333.50,115.95 L334.00,115.95 L334.50,115.94 L335.00,115.94 L335.50,115.93 L336.00,115.92 L336.50,115.91 L337.00,115.89 L337.50,115.86 L338.00,115.82 L338.50,115.76 L339.00,115.69 L339.50,115.59 L340.00,115.46 L340.50,115.29 L341.00,115.09 L341.50,114.83 L342.00,114.52 L342.50,114.14 L343.00,113.71 L343.50,113.20 L344.00,112.63 L344.50,112.00 L345.00,111.31 L345.50,110.58 L346.00,109.83 L346.50,109.06 L347.00,108.31 L347.50,107.60 L348.00,106.95 L348.50,106.38 L349.00,105.92 L349.50,105.59 L350.00,105.40 L350.50,105.35 L351.00,105.45 L351.50,105.68 L352.00,106.03 L352.50,106.49 L353.00,107.05 L353.50,107.68 L354.00,108.37 L354.50,109.09 L355.00,109.81 L355.50,110.54 L356.00,111.24 L356.50,111.90 L357.00,112.51 L357.50,113.07 L358.00,113.57 L358.50,114.00 L359.00,114.38 L359.50,114.70 L360.00,114.97 L360.50,115.19 L361.00,115.37 L361.50,115.51 L362.00,115.62 L362.50,115.71 L363.00,115.78 L363.50,115.83 L364.00,115.86 L364.50,115.89 L365.00,115.91 L365.50,115.92 L366.00,115.93 L366.50,115.94 L367.00,115.94 L367.50,115.95 L368.00,115.95 L368.50,115.95 L369.00,115.95 L369.50,115.95 L370.00,115.95 L370.50,115.95 L371.00,115.95 L371.50,115.95 L372.00,115.95 L372.50,115.95 L373.00,115.95 L373.50,115.95 L374.00,115.95 L374.50,115.95 L375.00,115.95 L375.50,115.95 L376.00,115.95 L376.50,115.95 L377.00,115.95 L377.50,115.95 L378.00,115.95 L378.50,115.95 L379.00,115.95 L379.50,115.95 L380.00,115.95 L380.50,115.95 L381.00,115.95 L381.50,115.95 L382.00,115.95 L382.50,115.95 L383.00,115.95 L383.50,115.95 L384.00,115.95 L384.50,115.95 L385.00,115.95 L385.50,115.95 L386.00,115.95 L386.50,115.95 L387.00,115.95 L387.50,115.95 L388.00,115.95 L388.50,115.95 L389.00,115.95 L389.50,115.95 L390.00,115.95 L390.50,115.95 L391.00,115.95 L391.50,115.95 L392.00,115.95" fill="none" stroke="#33587a" stroke-width="1.05" stroke-linejoin="round"/>
<path d="M314.00,125.10 L314.50,125.10 L315.00,125.10 L315.50,125.10 L316.00,125.10 L316.50,125.10 L317.00,125.10 L317.50,125.10 L318.00,125.10 L318.50,125.10 L319.00,125.10 L319.50,125.10 L320.00,125.10 L320.50,125.10 L321.00,125.10 L321.50,125.10 L322.00,125.10 L322.50,125.10 L323.00,125.10 L323.50,125.10 L324.00,125.10 L324.50,125.10 L325.00,125.10 L325.50,125.10 L326.00,125.10 L326.50,125.10 L327.00,125.10 L327.50,125.10 L328.00,125.10 L328.50,125.10 L329.00,125.10 L329.50,125.10 L330.00,125.10 L330.50,125.09 L331.00,125.09 L331.50,125.09 L332.00,125.09 L332.50,125.09 L333.00,125.08 L333.50,125.08 L334.00,125.07 L334.50,125.05 L335.00,125.03 L335.50,125.00 L336.00,124.96 L336.50,124.91 L337.00,124.84 L337.50,124.74 L338.00,124.61 L338.50,124.44 L339.00,124.23 L339.50,123.97 L340.00,123.65 L340.50,123.26 L341.00,122.80 L341.50,122.27 L342.00,121.66 L342.50,120.99 L343.00,120.24 L343.50,119.45 L344.00,118.62 L344.50,117.77 L345.00,116.92 L345.50,116.11 L346.00,115.35 L346.50,114.68 L347.00,114.12 L347.50,113.69 L348.00,113.42 L348.50,113.30 L349.00,113.34 L349.50,113.54 L350.00,113.88 L350.50,114.35 L351.00,114.93 L351.50,115.60 L352.00,116.34 L352.50,117.13 L353.00,117.94 L353.50,118.75 L354.00,119.54 L354.50,120.29 L355.00,121.00 L355.50,121.65 L356.00,122.23 L356.50,122.74 L357.00,123.19 L357.50,123.57 L358.00,123.89 L358.50,124.16 L359.00,124.37 L359.50,124.55 L360.00,124.68 L360.50,124.79 L361.00,124.87 L361.50,124.94 L362.00,124.98 L362.50,125.02 L363.00,125.04 L363.50,125.06 L364.00,125.07 L364.50,125.08 L365.00,125.08 L365.50,125.09 L366.00,125.09 L366.50,125.09 L367.00,125.09 L367.50,125.09 L368.00,125.10 L368.50,125.10 L369.00,125.10 L369.50,125.10 L370.00,125.10 L370.50,125.10 L371.00,125.10 L371.50,125.10 L372.00,125.10 L372.50,125.10 L373.00,125.10 L373.50,125.10 L374.00,125.10 L374.50,125.10 L375.00,125.10 L375.50,125.10 L376.00,125.10 L376.50,125.10 L377.00,125.10 L377.50,125.10 L378.00,125.10 L378.50,125.10 L379.00,125.10 L379.50,125.10 L380.00,125.10 L380.50,125.10 L381.00,125.10 L381.50,125.10 L382.00,125.10 L382.50,125.10 L383.00,125.10 L383.50,125.10 L384.00,125.10 L384.50,125.10 L385.00,125.10 L385.50,125.10 L386.00,125.10 L386.50,125.10 L387.00,125.10 L387.50,125.10 L388.00,125.10 L388.50,125.10 L389.00,125.10 L389.50,125.10 L390.00,125.10 L390.50,125.10 L391.00,125.10 L391.50,125.10 L392.00,125.10" fill="none" stroke="#33587a" stroke-width="1.05" stroke-linejoin="round"/>
<rect x="225.00" y="47.20" width="11.00" height="30.00" fill="#fff"/>
<rect x="225.00" y="98.80" width="11.00" height="20.50" fill="#fff"/>
<rect x="317.60" y="47.20" width="11.00" height="30.00" fill="#fff"/>
<rect x="317.60" y="92.00" width="11.00" height="21.00" fill="#fff"/>
<line x1="237.60" y1="41.00" x2="237.60" y2="84.00" stroke="#222" stroke-width="1.0" />
<line x1="237.60" y1="90.50" x2="237.60" y2="123.80" stroke="#222" stroke-width="1.0" />
<line x1="330.50" y1="34.60" x2="330.50" y2="77.40" stroke="#222" stroke-width="1.0" />
<line x1="330.50" y1="85.70" x2="330.50" y2="122.40" stroke="#222" stroke-width="1.0" />
<text transform="translate(234.40,74.80) rotate(-90)" x="0.21" y="0" font-size="8.8" fill="#333" stroke="#333" stroke-width="0.28" textLength="26.71" lengthAdjust="spacingAndGlyphs">Vehicle</text>
<text transform="translate(233.00,116.50) rotate(-90)" x="-0.37" y="0" font-size="8.8" fill="#333" stroke="#333" stroke-width="0.28" textLength="16.28" lengthAdjust="spacingAndGlyphs">NRX</text>
<text transform="translate(326.40,75.10) rotate(-90)" x="0.21" y="0" font-size="8.8" fill="#333" stroke="#333" stroke-width="0.28" textLength="26.41" lengthAdjust="spacingAndGlyphs">Vehicle</text>
<text transform="translate(325.80,111.40) rotate(-90)" x="-0.38" y="0" font-size="8.8" fill="#333" stroke="#333" stroke-width="0.28" textLength="16.70" lengthAdjust="spacingAndGlyphs">NRX</text>
<rect x="221.4" y="23.5" width="79.1" height="101.9" fill="none" stroke="#222" stroke-width="1.2"/>
<rect x="313.7" y="23.5" width="78.8" height="101.5" fill="none" stroke="#222" stroke-width="1.2"/>
<line x1="221.40" y1="125.60" x2="300.50" y2="125.60" stroke="#222" stroke-width="1.5" />
<line x1="313.70" y1="125.20" x2="392.50" y2="125.20" stroke="#222" stroke-width="1.5" />
<line x1="222.10" y1="125.60" x2="222.10" y2="128.60" stroke="#222" stroke-width="0.9" />
<line x1="229.02" y1="125.60" x2="229.02" y2="127.90" stroke="#222" stroke-width="0.8" />
<line x1="233.07" y1="125.60" x2="233.07" y2="127.90" stroke="#222" stroke-width="0.8" />
<line x1="235.95" y1="125.60" x2="235.95" y2="127.90" stroke="#222" stroke-width="0.8" />
<line x1="238.18" y1="125.60" x2="238.18" y2="127.90" stroke="#222" stroke-width="0.8" />
<line x1="240.00" y1="125.60" x2="240.00" y2="127.90" stroke="#222" stroke-width="0.8" />
<line x1="241.54" y1="125.60" x2="241.54" y2="127.90" stroke="#222" stroke-width="0.8" />
<line x1="242.87" y1="125.60" x2="242.87" y2="127.90" stroke="#222" stroke-width="0.8" />
<line x1="244.05" y1="125.60" x2="244.05" y2="127.90" stroke="#222" stroke-width="0.8" />
<line x1="245.10" y1="125.60" x2="245.10" y2="128.60" stroke="#222" stroke-width="0.9" />
<line x1="252.02" y1="125.60" x2="252.02" y2="127.90" stroke="#222" stroke-width="0.8" />
<line x1="256.07" y1="125.60" x2="256.07" y2="127.90" stroke="#222" stroke-width="0.8" />
<line x1="258.95" y1="125.60" x2="258.95" y2="127.90" stroke="#222" stroke-width="0.8" />
<line x1="261.18" y1="125.60" x2="261.18" y2="127.90" stroke="#222" stroke-width="0.8" />
<line x1="263.00" y1="125.60" x2="263.00" y2="127.90" stroke="#222" stroke-width="0.8" />
<line x1="264.54" y1="125.60" x2="264.54" y2="127.90" stroke="#222" stroke-width="0.8" />
<line x1="265.87" y1="125.60" x2="265.87" y2="127.90" stroke="#222" stroke-width="0.8" />
<line x1="267.05" y1="125.60" x2="267.05" y2="127.90" stroke="#222" stroke-width="0.8" />
<line x1="268.10" y1="125.60" x2="268.10" y2="128.60" stroke="#222" stroke-width="0.9" />
<line x1="275.02" y1="125.60" x2="275.02" y2="127.90" stroke="#222" stroke-width="0.8" />
<line x1="279.07" y1="125.60" x2="279.07" y2="127.90" stroke="#222" stroke-width="0.8" />
<line x1="281.95" y1="125.60" x2="281.95" y2="127.90" stroke="#222" stroke-width="0.8" />
<line x1="284.18" y1="125.60" x2="284.18" y2="127.90" stroke="#222" stroke-width="0.8" />
<line x1="286.00" y1="125.60" x2="286.00" y2="127.90" stroke="#222" stroke-width="0.8" />
<line x1="287.54" y1="125.60" x2="287.54" y2="127.90" stroke="#222" stroke-width="0.8" />
<line x1="288.87" y1="125.60" x2="288.87" y2="127.90" stroke="#222" stroke-width="0.8" />
<line x1="290.05" y1="125.60" x2="290.05" y2="127.90" stroke="#222" stroke-width="0.8" />
<line x1="291.10" y1="125.60" x2="291.10" y2="128.60" stroke="#222" stroke-width="0.9" />
<line x1="298.02" y1="125.60" x2="298.02" y2="127.90" stroke="#222" stroke-width="0.8" />
<text x="216.00" y="139.30" font-size="9.0" fill="#333" stroke="#333" stroke-width="0.28" textLength="8.12" lengthAdjust="spacingAndGlyphs" >10</text>
<text x="224.65" y="136.26" font-size="5.6" fill="#333" stroke="#333" stroke-width="0.12" textLength="3.30" lengthAdjust="spacingAndGlyphs" >2</text>
<text x="239.42" y="139.30" font-size="9.0" fill="#333" stroke="#333" stroke-width="0.28" textLength="7.90" lengthAdjust="spacingAndGlyphs" >10</text>
<text x="247.91" y="136.26" font-size="5.6" fill="#333" stroke="#333" stroke-width="0.12" textLength="3.28" lengthAdjust="spacingAndGlyphs" >3</text>
<text x="262.39" y="139.30" font-size="9.0" fill="#333" stroke="#333" stroke-width="0.28" textLength="8.34" lengthAdjust="spacingAndGlyphs" >10</text>
<text x="271.35" y="136.26" font-size="5.6" fill="#333" stroke="#333" stroke-width="0.12" textLength="2.86" lengthAdjust="spacingAndGlyphs" >4</text>
<text x="285.22" y="139.30" font-size="9.0" fill="#333" stroke="#333" stroke-width="0.28" textLength="7.90" lengthAdjust="spacingAndGlyphs" >10</text>
<text x="293.61" y="136.26" font-size="5.6" fill="#333" stroke="#333" stroke-width="0.12" textLength="3.28" lengthAdjust="spacingAndGlyphs" >5</text>
<text x="310.67" y="139.20" font-size="9.0" fill="#333" stroke="#333" stroke-width="0.28" textLength="2.45" lengthAdjust="spacingAndGlyphs" >-</text>
<text x="313.13" y="139.20" font-size="9.0" fill="#333" stroke="#333" stroke-width="0.28" textLength="9.23" lengthAdjust="spacingAndGlyphs" >10</text>
<text x="323.13" y="136.26" font-size="5.6" fill="#333" stroke="#333" stroke-width="0.12" textLength="3.04" lengthAdjust="spacingAndGlyphs" >3</text>
<text x="330.73" y="139.20" font-size="9.0" fill="#333" stroke="#333" stroke-width="0.28" textLength="4.50" lengthAdjust="spacingAndGlyphs">0</text>
<text x="339.53" y="139.20" font-size="9.0" fill="#333" stroke="#333" stroke-width="0.28" textLength="7.79" lengthAdjust="spacingAndGlyphs" >10</text>
<text x="347.82" y="136.26" font-size="5.6" fill="#333" stroke="#333" stroke-width="0.12" textLength="3.16" lengthAdjust="spacingAndGlyphs" >3</text>
<text x="360.89" y="139.30" font-size="9.0" fill="#333" stroke="#333" stroke-width="0.28" textLength="8.23" lengthAdjust="spacingAndGlyphs" >10</text>
<text x="369.72" y="136.26" font-size="5.6" fill="#333" stroke="#333" stroke-width="0.12" textLength="3.52" lengthAdjust="spacingAndGlyphs" >4</text>
<text x="380.72" y="139.30" font-size="9.0" fill="#333" stroke="#333" stroke-width="0.28" textLength="7.90" lengthAdjust="spacingAndGlyphs" >10</text>
<text x="389.06" y="136.26" font-size="5.6" fill="#333" stroke="#333" stroke-width="0.12" textLength="2.69" lengthAdjust="spacingAndGlyphs" >5</text>
<line x1="318.60" y1="125.20" x2="318.60" y2="128.20" stroke="#222" stroke-width="0.9" />
<line x1="333.00" y1="125.20" x2="333.00" y2="128.20" stroke="#222" stroke-width="0.9" />
<line x1="345.40" y1="125.20" x2="345.40" y2="128.20" stroke="#222" stroke-width="0.9" />
<line x1="367.30" y1="125.20" x2="367.30" y2="128.20" stroke="#222" stroke-width="0.9" />
<line x1="386.30" y1="125.20" x2="386.30" y2="128.20" stroke="#222" stroke-width="0.9" />
<line x1="314.55" y1="125.20" x2="314.55" y2="127.50" stroke="#222" stroke-width="0.8" />
<line x1="315.38" y1="125.20" x2="315.38" y2="127.50" stroke="#222" stroke-width="0.8" />
<line x1="316.07" y1="125.20" x2="316.07" y2="127.50" stroke="#222" stroke-width="0.8" />
<line x1="316.76" y1="125.20" x2="316.76" y2="127.50" stroke="#222" stroke-width="0.8" />
<line x1="317.31" y1="125.20" x2="317.31" y2="127.50" stroke="#222" stroke-width="0.8" />
<line x1="317.86" y1="125.20" x2="317.86" y2="127.50" stroke="#222" stroke-width="0.8" />
<line x1="318.28" y1="125.20" x2="318.28" y2="127.50" stroke="#222" stroke-width="0.8" />
<line x1="320.33" y1="125.20" x2="320.33" y2="127.50" stroke="#222" stroke-width="0.8" />
<line x1="322.92" y1="125.20" x2="322.92" y2="127.50" stroke="#222" stroke-width="0.8" />
<line x1="325.08" y1="125.20" x2="325.08" y2="127.50" stroke="#222" stroke-width="0.8" />
<line x1="327.24" y1="125.20" x2="327.24" y2="127.50" stroke="#222" stroke-width="0.8" />
<line x1="328.97" y1="125.20" x2="328.97" y2="127.50" stroke="#222" stroke-width="0.8" />
<line x1="330.70" y1="125.20" x2="330.70" y2="127.50" stroke="#222" stroke-width="0.8" />
<line x1="331.99" y1="125.20" x2="331.99" y2="127.50" stroke="#222" stroke-width="0.8" />
<line x1="334.49" y1="125.20" x2="334.49" y2="127.50" stroke="#222" stroke-width="0.8" />
<line x1="336.72" y1="125.20" x2="336.72" y2="127.50" stroke="#222" stroke-width="0.8" />
<line x1="338.58" y1="125.20" x2="338.58" y2="127.50" stroke="#222" stroke-width="0.8" />
<line x1="340.44" y1="125.20" x2="340.44" y2="127.50" stroke="#222" stroke-width="0.8" />
<line x1="341.93" y1="125.20" x2="341.93" y2="127.50" stroke="#222" stroke-width="0.8" />
<line x1="343.42" y1="125.20" x2="343.42" y2="127.50" stroke="#222" stroke-width="0.8" />
<line x1="344.53" y1="125.20" x2="344.53" y2="127.50" stroke="#222" stroke-width="0.8" />
<line x1="345.40" y1="125.20" x2="345.40" y2="128.20" stroke="#222" stroke-width="0.9" />
<line x1="351.99" y1="125.20" x2="351.99" y2="127.50" stroke="#222" stroke-width="0.8" />
<line x1="355.85" y1="125.20" x2="355.85" y2="127.50" stroke="#222" stroke-width="0.8" />
<line x1="358.59" y1="125.20" x2="358.59" y2="127.50" stroke="#222" stroke-width="0.8" />
<line x1="360.71" y1="125.20" x2="360.71" y2="127.50" stroke="#222" stroke-width="0.8" />
<line x1="362.44" y1="125.20" x2="362.44" y2="127.50" stroke="#222" stroke-width="0.8" />
<line x1="363.91" y1="125.20" x2="363.91" y2="127.50" stroke="#222" stroke-width="0.8" />
<line x1="365.18" y1="125.20" x2="365.18" y2="127.50" stroke="#222" stroke-width="0.8" />
<line x1="366.30" y1="125.20" x2="366.30" y2="127.50" stroke="#222" stroke-width="0.8" />
<line x1="367.30" y1="125.20" x2="367.30" y2="128.20" stroke="#222" stroke-width="0.9" />
<line x1="373.02" y1="125.20" x2="373.02" y2="127.50" stroke="#222" stroke-width="0.8" />
<line x1="376.37" y1="125.20" x2="376.37" y2="127.50" stroke="#222" stroke-width="0.8" />
<line x1="378.74" y1="125.20" x2="378.74" y2="127.50" stroke="#222" stroke-width="0.8" />
<line x1="380.58" y1="125.20" x2="380.58" y2="127.50" stroke="#222" stroke-width="0.8" />
<line x1="382.08" y1="125.20" x2="382.08" y2="127.50" stroke="#222" stroke-width="0.8" />
<line x1="383.36" y1="125.20" x2="383.36" y2="127.50" stroke="#222" stroke-width="0.8" />
<line x1="384.46" y1="125.20" x2="384.46" y2="127.50" stroke="#222" stroke-width="0.8" />
<line x1="385.43" y1="125.20" x2="385.43" y2="127.50" stroke="#222" stroke-width="0.8" />
<line x1="386.30" y1="125.20" x2="386.30" y2="128.20" stroke="#222" stroke-width="0.9" />
<line x1="391.93" y1="125.20" x2="391.93" y2="127.50" stroke="#222" stroke-width="0.8" />
<text x="240.05" y="151.50" font-size="8.8" fill="#333" stroke="#333" stroke-width="0.12" textLength="42.82" lengthAdjust="spacingAndGlyphs" >AF647-BTK</text>
<text x="331.95" y="151.50" font-size="8.8" fill="#333" stroke="#333" stroke-width="0.12" textLength="41.92" lengthAdjust="spacingAndGlyphs" >AF647-BTK</text>
<text x="402.95" y="10.30" font-size="12.8" fill="#111" stroke="#111" stroke-width="0.28" textLength="8.16" lengthAdjust="spacingAndGlyphs" font-weight="bold" >C</text>
<line x1="464.00" y1="11.50" x2="464.00" y2="96.60" stroke="#222" stroke-width="1.25" />
<line x1="461.30" y1="96.60" x2="464.00" y2="96.60" stroke="#222" stroke-width="1.0" />
<text x="452.79" y="99.30" font-size="9.2" fill="#333" stroke="#333" stroke-width="0.28" textLength="4.50" lengthAdjust="spacingAndGlyphs">0</text>
<line x1="461.30" y1="69.33" x2="464.00" y2="69.33" stroke="#222" stroke-width="1.0" />
<text x="439.26" y="72.03" font-size="9.2" fill="#333" stroke="#333" stroke-width="0.28" textLength="18.02" lengthAdjust="spacingAndGlyphs">1000</text>
<line x1="461.30" y1="42.07" x2="464.00" y2="42.07" stroke="#222" stroke-width="1.0" />
<text x="439.26" y="44.77" font-size="9.2" fill="#333" stroke="#333" stroke-width="0.28" textLength="18.02" lengthAdjust="spacingAndGlyphs">2000</text>
<line x1="461.30" y1="14.80" x2="464.00" y2="14.80" stroke="#222" stroke-width="1.0" />
<text x="439.26" y="17.50" font-size="9.2" fill="#333" stroke="#333" stroke-width="0.28" textLength="18.02" lengthAdjust="spacingAndGlyphs">3000</text>
<line x1="463.40" y1="96.60" x2="512.50" y2="96.60" stroke="#222" stroke-width="1.25" />
<line x1="479.40" y1="96.60" x2="479.40" y2="99.20" stroke="#222" stroke-width="1.0" />
<line x1="503.20" y1="96.60" x2="503.20" y2="99.20" stroke="#222" stroke-width="1.0" />
<text transform="translate(419.90,75.10) rotate(-90)" x="-0.11" y="0" font-size="9.4" fill="#333" stroke="#333" stroke-width="0.28" textLength="43.75" lengthAdjust="spacingAndGlyphs">CLL BTK MFI</text>
<text transform="translate(431.80,85.40) rotate(-90)" x="-0.22" y="0" font-size="9.4" fill="#333" stroke="#333" stroke-width="0.28" textLength="63.07" lengthAdjust="spacingAndGlyphs">(T-cell subtracted)</text>
<text x="473.21" y="108.90" font-size="8.9" fill="#333" stroke="#333" stroke-width="0.28" textLength="13.02" lengthAdjust="spacingAndGlyphs" >Veh</text>
<text x="494.60" y="108.90" font-size="8.9" fill="#333" stroke="#333" stroke-width="0.28" textLength="17.12" lengthAdjust="spacingAndGlyphs" >NRX</text>
<text x="476.91" y="122.00" font-size="9.8" fill="#333" stroke="#333" stroke-width="0.28" textLength="29.96" lengthAdjust="spacingAndGlyphs" >Day8 pb</text>
<text x="471.30" y="22.60" font-size="8.4" fill="#444" stroke="#444" stroke-width="0.28" textLength="35.33" lengthAdjust="spacingAndGlyphs"><tspan font-style="italic">P</tspan> &lt; .0001</text>
<line x1="476.00" y1="25.50" x2="502.70" y2="25.50" stroke="#484848" stroke-width="1.2" />
<circle cx="473.40" cy="32.20" r="1.4" fill="none" stroke="#b8243f" stroke-width="1.0"/>
<circle cx="479.90" cy="31.30" r="1.4" fill="none" stroke="#b8243f" stroke-width="1.0"/>
<circle cx="479.70" cy="33.70" r="1.4" fill="none" stroke="#b8243f" stroke-width="1.0"/>
<circle cx="486.80" cy="33.90" r="1.4" fill="none" stroke="#b8243f" stroke-width="1.0"/>
<circle cx="479.90" cy="44.90" r="1.4" fill="none" stroke="#b8243f" stroke-width="1.0"/>
<line x1="473.30" y1="35.40" x2="486.50" y2="35.40" stroke="#5e1624" stroke-width="1.1" />
<line x1="479.90" y1="33.00" x2="479.90" y2="38.40" stroke="#5e1624" stroke-width="1.15" />
<line x1="476.00" y1="33.00" x2="483.80" y2="33.00" stroke="#5e1624" stroke-width="1.15" />
<line x1="476.00" y1="38.40" x2="483.80" y2="38.40" stroke="#5e1624" stroke-width="1.15" />
<line x1="495.20" y1="89.40" x2="511.20" y2="89.40" stroke="#16253b" stroke-width="1.2" />
<line x1="497.00" y1="86.60" x2="497.00" y2="91.60" stroke="#16253b" stroke-width="1.0" />
<circle cx="497.00" cy="86.60" r="1.1" fill="#1c4470"/>
<circle cx="497.00" cy="90.60" r="1.05" fill="#1c4470"/>
<circle cx="500.80" cy="89.60" r="1.05" fill="#1c4470"/>
<circle cx="503.40" cy="89.80" r="1.05" fill="#1c4470"/>
<circle cx="505.60" cy="90.80" r="1.05" fill="#1c4470"/>
<circle cx="508.20" cy="89.40" r="1.05" fill="#1c4470"/>
<path d="M509.2,87.8 L511.6,89.4 L509.2,91.0 Z" fill="#16253b"/>
<text x="0.50" y="180.30" font-size="12.8" fill="#111" stroke="#111" stroke-width="0.28" textLength="8.92" lengthAdjust="spacingAndGlyphs" font-weight="bold" >D</text>
<line x1="61.60" y1="190.00" x2="61.60" y2="270.30" stroke="#222" stroke-width="1.25" />
<line x1="58.90" y1="270.30" x2="61.60" y2="270.30" stroke="#222" stroke-width="1.0" />
<text x="50.19" y="273.00" font-size="9.2" fill="#333" stroke="#333" stroke-width="0.28" textLength="4.50" lengthAdjust="spacingAndGlyphs">0</text>
<line x1="58.90" y1="254.55" x2="61.60" y2="254.55" stroke="#222" stroke-width="1.0" />
<text x="41.20" y="257.25" font-size="9.2" fill="#333" stroke="#333" stroke-width="0.28" textLength="13.51" lengthAdjust="spacingAndGlyphs">200</text>
<line x1="58.90" y1="238.80" x2="61.60" y2="238.80" stroke="#222" stroke-width="1.0" />
<text x="41.20" y="241.50" font-size="9.2" fill="#333" stroke="#333" stroke-width="0.28" textLength="13.51" lengthAdjust="spacingAndGlyphs">400</text>
<line x1="58.90" y1="223.04" x2="61.60" y2="223.04" stroke="#222" stroke-width="1.0" />
<text x="41.20" y="225.74" font-size="9.2" fill="#333" stroke="#333" stroke-width="0.28" textLength="13.51" lengthAdjust="spacingAndGlyphs">600</text>
<line x1="58.90" y1="207.29" x2="61.60" y2="207.29" stroke="#222" stroke-width="1.0" />
<text x="41.20" y="209.99" font-size="9.2" fill="#333" stroke="#333" stroke-width="0.28" textLength="13.51" lengthAdjust="spacingAndGlyphs">800</text>
<line x1="58.90" y1="191.54" x2="61.60" y2="191.54" stroke="#222" stroke-width="1.0" />
<text x="36.66" y="194.24" font-size="9.2" fill="#333" stroke="#333" stroke-width="0.28" textLength="18.02" lengthAdjust="spacingAndGlyphs">1000</text>
<line x1="61.00" y1="270.30" x2="118.90" y2="270.30" stroke="#222" stroke-width="1.25" />
<line x1="77.60" y1="270.30" x2="77.60" y2="272.90" stroke="#222" stroke-width="1.0" />
<line x1="101.60" y1="270.30" x2="101.60" y2="272.90" stroke="#222" stroke-width="1.0" />
<text transform="translate(17.60,248.80) rotate(-90)" x="-0.10" y="0" font-size="9.3" fill="#333" stroke="#333" stroke-width="0.28" textLength="42.73" lengthAdjust="spacingAndGlyphs">CLL BTK MFI</text>
<text transform="translate(28.90,258.30) rotate(-90)" x="-0.22" y="0" font-size="9.3" fill="#333" stroke="#333" stroke-width="0.28" textLength="62.97" lengthAdjust="spacingAndGlyphs">(T-cell subtracted)</text>
<text x="72.10" y="196.30" font-size="8.4" fill="#444" stroke="#444" stroke-width="0.28" textLength="35.64" lengthAdjust="spacingAndGlyphs"><tspan font-style="italic">P</tspan> &lt; .0001</text>
<line x1="77.90" y1="199.70" x2="102.70" y2="199.70" stroke="#484848" stroke-width="1.2" />
<circle cx="77.60" cy="204.80" r="1.4" fill="none" stroke="#b8243f" stroke-width="1.0"/>
<circle cx="77.60" cy="208.60" r="1.4" fill="none" stroke="#b8243f" stroke-width="1.0"/>
<circle cx="77.60" cy="212.50" r="1.4" fill="none" stroke="#b8243f" stroke-width="1.0"/>
<circle cx="74.80" cy="215.60" r="1.4" fill="none" stroke="#b8243f" stroke-width="1.0"/>
<circle cx="80.20" cy="215.60" r="1.4" fill="none" stroke="#b8243f" stroke-width="1.0"/>
<circle cx="77.60" cy="224.90" r="1.4" fill="none" stroke="#b8243f" stroke-width="1.0"/>
<line x1="69.40" y1="213.30" x2="85.80" y2="213.30" stroke="#5e1624" stroke-width="1.1" />
<line x1="77.60" y1="210.20" x2="77.60" y2="217.20" stroke="#5e1624" stroke-width="1.15" />
<line x1="73.80" y1="210.20" x2="81.40" y2="210.20" stroke="#5e1624" stroke-width="1.15" />
<line x1="73.80" y1="217.20" x2="81.40" y2="217.20" stroke="#5e1624" stroke-width="1.15" />
<circle cx="101.60" cy="250.10" r="1.1" fill="#1c4470"/>
<circle cx="98.00" cy="254.80" r="1.1" fill="#1c4470"/>
<circle cx="103.40" cy="256.00" r="1.1" fill="#1c4470"/>
<circle cx="101.60" cy="267.20" r="1.1" fill="#1c4470"/>
<line x1="93.50" y1="257.60" x2="109.70" y2="257.60" stroke="#16253b" stroke-width="1.1" />
<line x1="101.60" y1="254.50" x2="101.60" y2="260.20" stroke="#16253b" stroke-width="1.15" />
<line x1="97.90" y1="254.50" x2="105.30" y2="254.50" stroke="#16253b" stroke-width="1.15" />
<line x1="97.90" y1="260.20" x2="105.30" y2="260.20" stroke="#16253b" stroke-width="1.15" />
<text x="70.61" y="282.90" font-size="8.9" fill="#333" stroke="#333" stroke-width="0.28" textLength="13.75" lengthAdjust="spacingAndGlyphs" >Veh</text>
<text x="93.01" y="282.90" font-size="8.9" fill="#333" stroke="#333" stroke-width="0.28" textLength="16.81" lengthAdjust="spacingAndGlyphs" >NRX</text>
<text x="72.31" y="295.80" font-size="9.8" fill="#333" stroke="#333" stroke-width="0.28" textLength="34.27" lengthAdjust="spacingAndGlyphs" >Day22 pb</text>
<text x="136.16" y="180.10" font-size="12.8" fill="#111" stroke="#111" stroke-width="0.28" textLength="6.61" lengthAdjust="spacingAndGlyphs" font-weight="bold" >E</text>
<line x1="196.60" y1="189.40" x2="196.60" y2="270.30" stroke="#222" stroke-width="1.25" />
<line x1="193.90" y1="270.30" x2="196.60" y2="270.30" stroke="#222" stroke-width="1.0" />
<text x="185.39" y="273.00" font-size="9.2" fill="#333" stroke="#333" stroke-width="0.28" textLength="4.50" lengthAdjust="spacingAndGlyphs">0</text>
<line x1="193.90" y1="250.78" x2="196.60" y2="250.78" stroke="#222" stroke-width="1.0" />
<text x="176.40" y="253.47" font-size="9.2" fill="#333" stroke="#333" stroke-width="0.28" textLength="13.51" lengthAdjust="spacingAndGlyphs">500</text>
<line x1="193.90" y1="231.25" x2="196.60" y2="231.25" stroke="#222" stroke-width="1.0" />
<text x="171.86" y="233.95" font-size="9.2" fill="#333" stroke="#333" stroke-width="0.28" textLength="18.02" lengthAdjust="spacingAndGlyphs">1000</text>
<line x1="193.90" y1="211.73" x2="196.60" y2="211.73" stroke="#222" stroke-width="1.0" />
<text x="171.86" y="214.43" font-size="9.2" fill="#333" stroke="#333" stroke-width="0.28" textLength="18.02" lengthAdjust="spacingAndGlyphs">1500</text>
<line x1="193.90" y1="192.20" x2="196.60" y2="192.20" stroke="#222" stroke-width="1.0" />
<text x="171.86" y="194.90" font-size="9.2" fill="#333" stroke="#333" stroke-width="0.28" textLength="18.02" lengthAdjust="spacingAndGlyphs">2000</text>
<line x1="196.00" y1="270.30" x2="252.70" y2="270.30" stroke="#222" stroke-width="1.25" />
<line x1="210.90" y1="270.30" x2="210.90" y2="272.90" stroke="#222" stroke-width="1.0" />
<line x1="233.10" y1="270.30" x2="233.10" y2="272.90" stroke="#222" stroke-width="1.0" />
<text transform="translate(153.40,250.80) rotate(-90)" x="-0.10" y="0" font-size="9.4" fill="#333" stroke="#333" stroke-width="0.28" textLength="42.01" lengthAdjust="spacingAndGlyphs">CLL BTK MFI</text>
<text transform="translate(164.90,261.40) rotate(-90)" x="-0.23" y="0" font-size="9.4" fill="#333" stroke="#333" stroke-width="0.28" textLength="63.37" lengthAdjust="spacingAndGlyphs">(T-cell subtracted)</text>
<text x="209.20" y="204.60" font-size="8.4" fill="#444" stroke="#444" stroke-width="0.28" textLength="31.21" lengthAdjust="spacingAndGlyphs"><tspan font-style="italic">P</tspan> = .004</text>
<line x1="209.40" y1="207.70" x2="239.20" y2="207.70" stroke="#484848" stroke-width="1.2" />
<circle cx="208.30" cy="213.30" r="1.4" fill="none" stroke="#b8243f" stroke-width="1.0"/>
<circle cx="213.50" cy="213.30" r="1.4" fill="none" stroke="#b8243f" stroke-width="1.0"/>
<circle cx="210.90" cy="218.00" r="1.4" fill="none" stroke="#b8243f" stroke-width="1.0"/>
<circle cx="208.30" cy="224.60" r="1.4" fill="none" stroke="#b8243f" stroke-width="1.0"/>
<circle cx="213.50" cy="224.60" r="1.4" fill="none" stroke="#b8243f" stroke-width="1.0"/>
<line x1="203.00" y1="218.70" x2="218.80" y2="218.70" stroke="#5e1624" stroke-width="1.1" />
<line x1="210.90" y1="216.00" x2="210.90" y2="221.50" stroke="#5e1624" stroke-width="1.15" />
<line x1="207.80" y1="216.00" x2="214.00" y2="216.00" stroke="#5e1624" stroke-width="1.15" />
<line x1="207.80" y1="221.50" x2="214.00" y2="221.50" stroke="#5e1624" stroke-width="1.15" />
<circle cx="230.60" cy="227.70" r="1.1" fill="#1c4470"/>
<circle cx="235.70" cy="230.30" r="1.1" fill="#1c4470"/>
<circle cx="233.10" cy="236.00" r="1.1" fill="#1c4470"/>
<circle cx="230.60" cy="247.30" r="1.1" fill="#1c4470"/>
<circle cx="235.70" cy="245.80" r="1.1" fill="#1c4470"/>
<line x1="225.20" y1="238.90" x2="241.00" y2="238.90" stroke="#16253b" stroke-width="1.1" />
<line x1="233.10" y1="234.50" x2="233.10" y2="242.70" stroke="#16253b" stroke-width="1.15" />
<line x1="229.80" y1="234.50" x2="236.40" y2="234.50" stroke="#16253b" stroke-width="1.15" />
<line x1="229.80" y1="242.70" x2="236.40" y2="242.70" stroke="#16253b" stroke-width="1.15" />
<text x="204.41" y="282.90" font-size="8.9" fill="#333" stroke="#333" stroke-width="0.28" textLength="14.06" lengthAdjust="spacingAndGlyphs" >Veh</text>
<text x="224.39" y="282.90" font-size="8.9" fill="#333" stroke="#333" stroke-width="0.28" textLength="17.44" lengthAdjust="spacingAndGlyphs" >NRX</text>
<text x="208.23" y="295.80" font-size="9.8" fill="#333" stroke="#333" stroke-width="0.28" textLength="32.93" lengthAdjust="spacingAndGlyphs" >Day22 sp</text>
<text x="271.25" y="180.10" font-size="12.8" fill="#111" stroke="#111" stroke-width="0.28" textLength="6.11" lengthAdjust="spacingAndGlyphs" font-weight="bold" >F</text>
<rect x="318.20" y="220.60" width="14.40" height="49.70" fill="#efbab1"/>
<rect x="342.20" y="247.20" width="14.70" height="23.10" fill="#bec3df"/>
<line x1="309.20" y1="188.70" x2="309.20" y2="270.30" stroke="#222" stroke-width="1.25" />
<line x1="306.50" y1="270.30" x2="309.20" y2="270.30" stroke="#222" stroke-width="1.0" />
<text x="298.39" y="273.00" font-size="9.2" fill="#333" stroke="#333" stroke-width="0.28" textLength="4.50" lengthAdjust="spacingAndGlyphs">0</text>
<line x1="306.50" y1="244.10" x2="309.20" y2="244.10" stroke="#222" stroke-width="1.0" />
<text x="293.89" y="246.80" font-size="9.2" fill="#333" stroke="#333" stroke-width="0.28" textLength="9.01" lengthAdjust="spacingAndGlyphs">10</text>
<line x1="306.50" y1="217.90" x2="309.20" y2="217.90" stroke="#222" stroke-width="1.0" />
<text x="293.89" y="220.60" font-size="9.2" fill="#333" stroke="#333" stroke-width="0.28" textLength="9.01" lengthAdjust="spacingAndGlyphs">20</text>
<line x1="306.50" y1="191.70" x2="309.20" y2="191.70" stroke="#222" stroke-width="1.0" />
<text x="293.89" y="194.40" font-size="9.2" fill="#333" stroke="#333" stroke-width="0.28" textLength="9.01" lengthAdjust="spacingAndGlyphs">30</text>
<line x1="308.60" y1="270.30" x2="365.40" y2="270.30" stroke="#222" stroke-width="1.25" />
<line x1="325.10" y1="270.30" x2="325.10" y2="272.90" stroke="#222" stroke-width="1.0" />
<line x1="349.60" y1="270.30" x2="349.60" y2="272.90" stroke="#222" stroke-width="1.0" />
<text transform="translate(287.40,259.80) rotate(-90)" x="-0.03" y="0" font-size="10.0" fill="#333" stroke="#333" stroke-width="0.28" textLength="60.50" lengthAdjust="spacingAndGlyphs">% Ki67+ CLL cell</text>
<text x="321.30" y="199.40" font-size="8.4" fill="#444" stroke="#444" stroke-width="0.28" textLength="31.89" lengthAdjust="spacingAndGlyphs"><tspan font-style="italic">P</tspan> = .002</text>
<line x1="324.40" y1="202.90" x2="349.90" y2="202.90" stroke="#484848" stroke-width="1.2" />
<circle cx="325.40" cy="206.60" r="1.4" fill="none" stroke="#b8243f" stroke-width="1.0"/>
<circle cx="323.30" cy="222.00" r="1.4" fill="none" stroke="#b8243f" stroke-width="1.0"/>
<circle cx="327.50" cy="222.00" r="1.4" fill="none" stroke="#b8243f" stroke-width="1.0"/>
<circle cx="323.30" cy="226.00" r="1.4" fill="none" stroke="#b8243f" stroke-width="1.0"/>
<circle cx="327.50" cy="226.00" r="1.4" fill="none" stroke="#b8243f" stroke-width="1.0"/>
<circle cx="325.40" cy="224.00" r="1.4" fill="none" stroke="#b8243f" stroke-width="1.0"/>
<line x1="325.40" y1="217.20" x2="325.40" y2="224.50" stroke="#5e1624" stroke-width="1.15" />
<line x1="321.30" y1="217.20" x2="329.50" y2="217.20" stroke="#5e1624" stroke-width="1.15" />
<line x1="321.30" y1="224.50" x2="329.50" y2="224.50" stroke="#5e1624" stroke-width="1.15" />
<circle cx="346.80" cy="235.40" r="1.1" fill="#1c4470"/>
<circle cx="352.20" cy="237.60" r="1.1" fill="#1c4470"/>
<circle cx="346.80" cy="250.10" r="1.1" fill="#1c4470"/>
<circle cx="352.20" cy="251.70" r="1.1" fill="#1c4470"/>
<circle cx="349.90" cy="256.60" r="1.1" fill="#1c4470"/>
<line x1="349.90" y1="242.20" x2="349.90" y2="250.90" stroke="#16253b" stroke-width="1.15" />
<line x1="345.90" y1="242.20" x2="353.90" y2="242.20" stroke="#16253b" stroke-width="1.15" />
<line x1="345.90" y1="250.90" x2="353.90" y2="250.90" stroke="#16253b" stroke-width="1.15" />
<text x="318.41" y="282.90" font-size="8.9" fill="#333" stroke="#333" stroke-width="0.28" textLength="13.96" lengthAdjust="spacingAndGlyphs" >Veh</text>
<text x="340.99" y="282.90" font-size="8.9" fill="#333" stroke="#333" stroke-width="0.28" textLength="17.33" lengthAdjust="spacingAndGlyphs" >NRX</text>
<text x="322.41" y="295.80" font-size="9.8" fill="#333" stroke="#333" stroke-width="0.28" textLength="29.86" lengthAdjust="spacingAndGlyphs" >Day8 pb</text>
<text x="382.11" y="180.30" font-size="12.8" fill="#111" stroke="#111" stroke-width="0.28" textLength="9.45" lengthAdjust="spacingAndGlyphs" font-weight="bold" >G</text>
<rect x="431.20" y="214.00" width="14.40" height="56.60" fill="#efbab1"/>
<rect x="455.90" y="249.40" width="14.40" height="21.20" fill="#bec3df"/>
<line x1="422.30" y1="188.00" x2="422.30" y2="270.60" stroke="#222" stroke-width="1.25" />
<line x1="419.60" y1="270.60" x2="422.30" y2="270.60" stroke="#222" stroke-width="1.0" />
<text x="411.79" y="273.30" font-size="9.2" fill="#333" stroke="#333" stroke-width="0.28" textLength="4.50" lengthAdjust="spacingAndGlyphs">0</text>
<line x1="419.60" y1="250.60" x2="422.30" y2="250.60" stroke="#222" stroke-width="1.0" />
<text x="407.29" y="253.30" font-size="9.2" fill="#333" stroke="#333" stroke-width="0.28" textLength="9.01" lengthAdjust="spacingAndGlyphs">10</text>
<line x1="419.60" y1="230.60" x2="422.30" y2="230.60" stroke="#222" stroke-width="1.0" />
<text x="407.29" y="233.30" font-size="9.2" fill="#333" stroke="#333" stroke-width="0.28" textLength="9.01" lengthAdjust="spacingAndGlyphs">20</text>
<line x1="419.60" y1="210.60" x2="422.30" y2="210.60" stroke="#222" stroke-width="1.0" />
<text x="407.29" y="213.30" font-size="9.2" fill="#333" stroke="#333" stroke-width="0.28" textLength="9.01" lengthAdjust="spacingAndGlyphs">30</text>
<line x1="419.60" y1="190.60" x2="422.30" y2="190.60" stroke="#222" stroke-width="1.0" />
<text x="407.29" y="193.30" font-size="9.2" fill="#333" stroke="#333" stroke-width="0.28" textLength="9.01" lengthAdjust="spacingAndGlyphs">40</text>
<line x1="421.70" y1="270.60" x2="479.60" y2="270.60" stroke="#222" stroke-width="1.25" />
<line x1="438.60" y1="270.60" x2="438.60" y2="273.20" stroke="#222" stroke-width="1.0" />
<line x1="463.00" y1="270.60" x2="463.00" y2="273.20" stroke="#222" stroke-width="1.0" />
<text transform="translate(400.50,258.70) rotate(-90)" x="-0.03" y="0" font-size="10.0" fill="#333" stroke="#333" stroke-width="0.28" textLength="59.79" lengthAdjust="spacingAndGlyphs">% Ki67+ CLL cell</text>
<text x="435.50" y="190.50" font-size="8.4" fill="#444" stroke="#444" stroke-width="0.28" textLength="31.39" lengthAdjust="spacingAndGlyphs"><tspan font-style="italic">P</tspan> = .003</text>
<line x1="438.90" y1="193.90" x2="464.10" y2="193.90" stroke="#484848" stroke-width="1.2" />
<circle cx="438.60" cy="199.00" r="1.4" fill="none" stroke="#b8243f" stroke-width="1.0"/>
<circle cx="438.60" cy="207.80" r="1.4" fill="none" stroke="#b8243f" stroke-width="1.0"/>
<circle cx="436.30" cy="223.00" r="1.4" fill="none" stroke="#b8243f" stroke-width="1.0"/>
<circle cx="441.40" cy="223.00" r="1.4" fill="none" stroke="#b8243f" stroke-width="1.0"/>
<circle cx="438.60" cy="215.00" r="1.4" fill="#5e1624"/>
<line x1="438.60" y1="208.80" x2="438.60" y2="217.60" stroke="#5e1624" stroke-width="1.15" />
<line x1="434.50" y1="208.80" x2="442.70" y2="208.80" stroke="#5e1624" stroke-width="1.15" />
<line x1="434.50" y1="217.60" x2="442.70" y2="217.60" stroke="#5e1624" stroke-width="1.15" />
<circle cx="460.60" cy="238.50" r="1.1" fill="#1c4470"/>
<circle cx="465.60" cy="241.20" r="1.1" fill="#1c4470"/>
<circle cx="460.40" cy="255.60" r="1.1" fill="#1c4470"/>
<circle cx="465.70" cy="254.80" r="1.1" fill="#1c4470"/>
<line x1="463.00" y1="245.20" x2="463.00" y2="252.50" stroke="#16253b" stroke-width="1.15" />
<line x1="459.00" y1="245.20" x2="467.00" y2="245.20" stroke="#16253b" stroke-width="1.15" />
<line x1="459.00" y1="252.50" x2="467.00" y2="252.50" stroke="#16253b" stroke-width="1.15" />
<text x="431.81" y="282.90" font-size="8.9" fill="#333" stroke="#333" stroke-width="0.28" textLength="14.06" lengthAdjust="spacingAndGlyphs" >Veh</text>
<text x="453.99" y="282.90" font-size="8.9" fill="#333" stroke="#333" stroke-width="0.28" textLength="17.33" lengthAdjust="spacingAndGlyphs" >NRX</text>
<text x="435.89" y="296.00" font-size="9.8" fill="#333" stroke="#333" stroke-width="0.28" textLength="30.69" lengthAdjust="spacingAndGlyphs" >Day8 pb</text>
<text x="0.26" y="326.30" font-size="12.8" fill="#111" stroke="#111" stroke-width="0.28" textLength="9.30" lengthAdjust="spacingAndGlyphs" font-weight="bold" >H</text>
<rect x="48.50" y="361.00" width="15.00" height="60.40" fill="#efbab1"/>
<rect x="73.00" y="377.00" width="14.70" height="44.40" fill="#bec3df"/>
<line x1="40.00" y1="341.00" x2="40.00" y2="421.40" stroke="#222" stroke-width="1.25" />
<line x1="37.30" y1="421.40" x2="40.00" y2="421.40" stroke="#222" stroke-width="1.0" />
<text x="29.09" y="424.10" font-size="9.2" fill="#333" stroke="#333" stroke-width="0.28" textLength="4.50" lengthAdjust="spacingAndGlyphs">0</text>
<line x1="37.30" y1="395.38" x2="40.00" y2="395.38" stroke="#222" stroke-width="1.0" />
<text x="24.59" y="398.08" font-size="9.2" fill="#333" stroke="#333" stroke-width="0.28" textLength="9.01" lengthAdjust="spacingAndGlyphs">20</text>
<line x1="37.30" y1="369.36" x2="40.00" y2="369.36" stroke="#222" stroke-width="1.0" />
<text x="24.59" y="372.06" font-size="9.2" fill="#333" stroke="#333" stroke-width="0.28" textLength="9.01" lengthAdjust="spacingAndGlyphs">40</text>
<line x1="37.30" y1="343.34" x2="40.00" y2="343.34" stroke="#222" stroke-width="1.0" />
<text x="24.59" y="346.04" font-size="9.2" fill="#333" stroke="#333" stroke-width="0.28" textLength="9.01" lengthAdjust="spacingAndGlyphs">60</text>
<line x1="39.40" y1="421.40" x2="97.30" y2="421.40" stroke="#222" stroke-width="1.25" />
<line x1="55.80" y1="421.40" x2="55.80" y2="424.00" stroke="#222" stroke-width="1.0" />
<line x1="80.60" y1="421.40" x2="80.60" y2="424.00" stroke="#222" stroke-width="1.0" />
<text transform="translate(18.30,411.00) rotate(-90)" x="-0.03" y="0" font-size="10.0" fill="#333" stroke="#333" stroke-width="0.28" textLength="59.79" lengthAdjust="spacingAndGlyphs">% Ki67+ CLL cell</text>
<text x="53.20" y="340.40" font-size="8.4" fill="#444" stroke="#444" stroke-width="0.28" textLength="26.97" lengthAdjust="spacingAndGlyphs"><tspan font-style="italic">P</tspan> = .02</text>
<line x1="53.60" y1="343.50" x2="78.70" y2="343.50" stroke="#484848" stroke-width="1.2" />
<circle cx="56.30" cy="348.70" r="1.4" fill="none" stroke="#b8243f" stroke-width="1.0"/>
<circle cx="49.30" cy="361.80" r="1.4" fill="none" stroke="#b8243f" stroke-width="1.0"/>
<circle cx="56.30" cy="361.80" r="1.4" fill="none" stroke="#b8243f" stroke-width="1.0"/>
<circle cx="62.90" cy="361.80" r="1.4" fill="none" stroke="#b8243f" stroke-width="1.0"/>
<line x1="56.30" y1="355.60" x2="56.30" y2="363.50" stroke="#5e1624" stroke-width="1.15" />
<line x1="52.30" y1="355.60" x2="60.30" y2="355.60" stroke="#5e1624" stroke-width="1.15" />
<line x1="52.30" y1="363.50" x2="60.30" y2="363.50" stroke="#5e1624" stroke-width="1.15" />
<circle cx="80.60" cy="362.60" r="1.1" fill="#1c4470"/>
<circle cx="80.60" cy="368.30" r="1.1" fill="#1c4470"/>
<circle cx="80.60" cy="396.70" r="1.1" fill="#1c4470"/>
<line x1="80.60" y1="370.30" x2="80.60" y2="382.70" stroke="#16253b" stroke-width="1.15" />
<line x1="76.40" y1="370.30" x2="84.80" y2="370.30" stroke="#16253b" stroke-width="1.15" />
<line x1="76.40" y1="382.70" x2="84.80" y2="382.70" stroke="#16253b" stroke-width="1.15" />
<text x="48.71" y="434.30" font-size="8.9" fill="#333" stroke="#333" stroke-width="0.28" textLength="14.48" lengthAdjust="spacingAndGlyphs" >Veh</text>
<text x="71.79" y="434.30" font-size="8.9" fill="#333" stroke="#333" stroke-width="0.28" textLength="17.33" lengthAdjust="spacingAndGlyphs" >NRX</text>
<text x="52.02" y="447.30" font-size="9.8" fill="#333" stroke="#333" stroke-width="0.28" textLength="33.24" lengthAdjust="spacingAndGlyphs" >Day22 sp</text>
<text x="116.54" y="325.90" font-size="12.8" fill="#111" stroke="#111" stroke-width="0.28" textLength="3.26" lengthAdjust="spacingAndGlyphs" font-weight="bold" >I</text>
<rect x="160.90" y="356.30" width="14.50" height="65.10" fill="#efbab1"/>
<rect x="182.70" y="386.20" width="14.40" height="35.20" fill="#bec3df"/>
<line x1="153.20" y1="341.00" x2="153.20" y2="421.40" stroke="#222" stroke-width="1.25" />
<line x1="150.50" y1="421.40" x2="153.20" y2="421.40" stroke="#222" stroke-width="1.0" />
<text x="142.19" y="424.10" font-size="9.2" fill="#333" stroke="#333" stroke-width="0.28" textLength="4.50" lengthAdjust="spacingAndGlyphs">0</text>
<line x1="150.50" y1="401.70" x2="153.20" y2="401.70" stroke="#222" stroke-width="1.0" />
<text x="142.27" y="404.40" font-size="9.2" fill="#333" stroke="#333" stroke-width="0.28" textLength="4.50" lengthAdjust="spacingAndGlyphs">1</text>
<line x1="150.50" y1="382.00" x2="153.20" y2="382.00" stroke="#222" stroke-width="1.0" />
<text x="142.31" y="384.70" font-size="9.2" fill="#333" stroke="#333" stroke-width="0.28" textLength="4.50" lengthAdjust="spacingAndGlyphs">2</text>
<line x1="150.50" y1="362.30" x2="153.20" y2="362.30" stroke="#222" stroke-width="1.0" />
<text x="142.23" y="365.00" font-size="9.2" fill="#333" stroke="#333" stroke-width="0.28" textLength="4.50" lengthAdjust="spacingAndGlyphs">3</text>
<line x1="150.50" y1="342.60" x2="153.20" y2="342.60" stroke="#222" stroke-width="1.0" />
<text x="142.15" y="345.30" font-size="9.2" fill="#333" stroke="#333" stroke-width="0.28" textLength="4.50" lengthAdjust="spacingAndGlyphs">4</text>
<line x1="152.60" y1="421.40" x2="206.10" y2="421.40" stroke="#222" stroke-width="1.25" />
<line x1="167.70" y1="421.40" x2="167.70" y2="424.00" stroke="#222" stroke-width="1.0" />
<line x1="190.30" y1="421.40" x2="190.30" y2="424.00" stroke="#222" stroke-width="1.0" />
<text transform="translate(131.80,411.80) rotate(-90)" x="-0.02" y="0" font-size="10.0" fill="#333" stroke="#333" stroke-width="0.28" textLength="62.58" lengthAdjust="spacingAndGlyphs">% CD69+ CLL cell</text>
<text x="164.30" y="340.40" font-size="8.4" fill="#444" stroke="#444" stroke-width="0.28" textLength="36.00" lengthAdjust="spacingAndGlyphs"><tspan font-style="italic">P</tspan> = .0003</text>
<line x1="169.20" y1="343.20" x2="194.50" y2="343.20" stroke="#484848" stroke-width="1.2" />
<circle cx="168.20" cy="348.70" r="1.4" fill="none" stroke="#b8243f" stroke-width="1.0"/>
<circle cx="168.20" cy="352.80" r="1.4" fill="none" stroke="#b8243f" stroke-width="1.0"/>
<circle cx="166.20" cy="355.00" r="1.4" fill="none" stroke="#b8243f" stroke-width="1.0"/>
<circle cx="168.20" cy="357.00" r="1.4" fill="none" stroke="#b8243f" stroke-width="1.0"/>
<circle cx="168.20" cy="363.00" r="1.4" fill="none" stroke="#b8243f" stroke-width="1.0"/>
<line x1="168.20" y1="352.80" x2="168.20" y2="358.50" stroke="#5e1624" stroke-width="1.15" />
<line x1="164.70" y1="352.80" x2="171.70" y2="352.80" stroke="#5e1624" stroke-width="1.15" />
<line x1="164.70" y1="358.50" x2="171.70" y2="358.50" stroke="#5e1624" stroke-width="1.15" />
<circle cx="190.30" cy="367.20" r="1.1" fill="#1c4470"/>
<circle cx="187.20" cy="387.40" r="1.1" fill="#1c4470"/>
<circle cx="192.20" cy="387.40" r="1.1" fill="#1c4470"/>
<circle cx="190.30" cy="395.50" r="1.1" fill="#1c4470"/>
<line x1="190.30" y1="378.50" x2="190.30" y2="390.80" stroke="#16253b" stroke-width="1.15" />
<line x1="186.10" y1="378.50" x2="194.50" y2="378.50" stroke="#16253b" stroke-width="1.15" />
<line x1="186.10" y1="390.80" x2="194.50" y2="390.80" stroke="#16253b" stroke-width="1.15" />
<text x="161.41" y="434.30" font-size="8.9" fill="#333" stroke="#333" stroke-width="0.28" textLength="13.96" lengthAdjust="spacingAndGlyphs" >Veh</text>
<text x="181.19" y="434.30" font-size="8.9" fill="#333" stroke="#333" stroke-width="0.28" textLength="17.44" lengthAdjust="spacingAndGlyphs" >NRX</text>
<text x="161.61" y="447.30" font-size="9.8" fill="#333" stroke="#333" stroke-width="0.28" textLength="34.06" lengthAdjust="spacingAndGlyphs" >Day22 pb</text>
<text x="224.43" y="325.90" font-size="12.8" fill="#111" stroke="#111" stroke-width="0.28" textLength="6.32" lengthAdjust="spacingAndGlyphs" font-weight="bold" >J</text>
<rect x="270.00" y="363.90" width="14.60" height="57.60" fill="#efbab1"/>
<rect x="292.30" y="383.30" width="14.60" height="38.20" fill="#bec3df"/>
<line x1="262.50" y1="341.00" x2="262.50" y2="421.50" stroke="#222" stroke-width="1.25" />
<line x1="259.80" y1="421.50" x2="262.50" y2="421.50" stroke="#222" stroke-width="1.0" />
<text x="251.79" y="424.20" font-size="9.2" fill="#333" stroke="#333" stroke-width="0.28" textLength="4.50" lengthAdjust="spacingAndGlyphs">0</text>
<line x1="259.80" y1="402.30" x2="262.50" y2="402.30" stroke="#222" stroke-width="1.0" />
<text x="247.29" y="405.00" font-size="9.2" fill="#333" stroke="#333" stroke-width="0.28" textLength="9.01" lengthAdjust="spacingAndGlyphs">10</text>
<line x1="259.80" y1="383.10" x2="262.50" y2="383.10" stroke="#222" stroke-width="1.0" />
<text x="247.29" y="385.80" font-size="9.2" fill="#333" stroke="#333" stroke-width="0.28" textLength="9.01" lengthAdjust="spacingAndGlyphs">20</text>
<line x1="259.80" y1="363.90" x2="262.50" y2="363.90" stroke="#222" stroke-width="1.0" />
<text x="247.29" y="366.60" font-size="9.2" fill="#333" stroke="#333" stroke-width="0.28" textLength="9.01" lengthAdjust="spacingAndGlyphs">30</text>
<line x1="259.80" y1="344.70" x2="262.50" y2="344.70" stroke="#222" stroke-width="1.0" />
<text x="247.29" y="347.40" font-size="9.2" fill="#333" stroke="#333" stroke-width="0.28" textLength="9.01" lengthAdjust="spacingAndGlyphs">40</text>
<line x1="261.90" y1="421.50" x2="315.80" y2="421.50" stroke="#222" stroke-width="1.25" />
<line x1="277.50" y1="421.50" x2="277.50" y2="424.10" stroke="#222" stroke-width="1.0" />
<line x1="299.50" y1="421.50" x2="299.50" y2="424.10" stroke="#222" stroke-width="1.0" />
<text transform="translate(240.50,411.00) rotate(-90)" x="-0.01" y="0" font-size="10.0" fill="#333" stroke="#333" stroke-width="0.28" textLength="61.77" lengthAdjust="spacingAndGlyphs">% CD69+ CLL cell</text>
<text x="276.50" y="347.00" font-size="8.4" fill="#444" stroke="#444" stroke-width="0.28" textLength="26.11" lengthAdjust="spacingAndGlyphs"><tspan font-style="italic">P</tspan> = .01</text>
<line x1="277.00" y1="349.80" x2="302.50" y2="349.80" stroke="#484848" stroke-width="1.2" />
<circle cx="277.70" cy="354.90" r="1.3" fill="#b8243f"/>
<circle cx="277.70" cy="365.00" r="1.3" fill="#b8243f"/>
<circle cx="277.70" cy="370.10" r="1.3" fill="#b8243f"/>
<line x1="273.70" y1="363.90" x2="281.70" y2="363.90" stroke="#5e1624" stroke-width="1.1" />
<line x1="277.70" y1="360.30" x2="277.70" y2="367.00" stroke="#5e1624" stroke-width="1.15" />
<line x1="273.70" y1="360.30" x2="281.70" y2="360.30" stroke="#5e1624" stroke-width="1.15" />
<line x1="273.70" y1="367.00" x2="281.70" y2="367.00" stroke="#5e1624" stroke-width="1.15" />
<circle cx="297.90" cy="370.60" r="0.8" fill="#1c4470"/>
<circle cx="301.70" cy="370.60" r="0.8" fill="#1c4470"/>
<circle cx="299.70" cy="392.70" r="0.8" fill="#1c4470"/>
<circle cx="299.70" cy="396.60" r="0.8" fill="#1c4470"/>
<line x1="299.70" y1="377.20" x2="299.70" y2="388.10" stroke="#16253b" stroke-width="1.15" />
<line x1="295.90" y1="377.20" x2="303.50" y2="377.20" stroke="#16253b" stroke-width="1.15" />
<line x1="295.90" y1="388.10" x2="303.50" y2="388.10" stroke="#16253b" stroke-width="1.15" />
<text x="271.01" y="434.30" font-size="8.9" fill="#333" stroke="#333" stroke-width="0.28" textLength="13.75" lengthAdjust="spacingAndGlyphs" >Veh</text>
<text x="290.59" y="434.30" font-size="8.9" fill="#333" stroke="#333" stroke-width="0.28" textLength="17.33" lengthAdjust="spacingAndGlyphs" >NRX</text>
<text x="271.23" y="447.30" font-size="9.8" fill="#333" stroke="#333" stroke-width="0.28" textLength="32.93" lengthAdjust="spacingAndGlyphs" >Day22 sp</text>
<text x="332.93" y="325.90" font-size="12.8" fill="#111" stroke="#111" stroke-width="0.28" textLength="8.51" lengthAdjust="spacingAndGlyphs" font-weight="bold" >K</text>
<line x1="375.70" y1="335.50" x2="375.70" y2="421.50" stroke="#222" stroke-width="1.25" />
<line x1="373.00" y1="421.30" x2="375.70" y2="421.30" stroke="#222" stroke-width="1.0" />
<text x="357.30" y="423.90" font-size="9.0" fill="#333" stroke="#333" stroke-width="0.28" textLength="8.23" lengthAdjust="spacingAndGlyphs" >10</text>
<text x="365.91" y="419.40" font-size="6.2" fill="#333" stroke="#333" stroke-width="0.12" textLength="3.79" lengthAdjust="spacingAndGlyphs" >2</text>
<line x1="373.00" y1="400.30" x2="375.70" y2="400.30" stroke="#222" stroke-width="1.0" />
<text x="357.30" y="402.90" font-size="9.0" fill="#333" stroke="#333" stroke-width="0.28" textLength="8.23" lengthAdjust="spacingAndGlyphs" >10</text>
<text x="365.99" y="398.40" font-size="6.2" fill="#333" stroke="#333" stroke-width="0.12" textLength="3.63" lengthAdjust="spacingAndGlyphs" >3</text>
<line x1="373.00" y1="379.30" x2="375.70" y2="379.30" stroke="#222" stroke-width="1.0" />
<text x="357.30" y="381.90" font-size="9.0" fill="#333" stroke="#333" stroke-width="0.28" textLength="8.23" lengthAdjust="spacingAndGlyphs" >10</text>
<text x="366.13" y="377.40" font-size="6.2" fill="#333" stroke="#333" stroke-width="0.12" textLength="3.41" lengthAdjust="spacingAndGlyphs" >4</text>
<line x1="373.00" y1="358.30" x2="375.70" y2="358.30" stroke="#222" stroke-width="1.0" />
<text x="357.30" y="360.90" font-size="9.0" fill="#333" stroke="#333" stroke-width="0.28" textLength="8.23" lengthAdjust="spacingAndGlyphs" >10</text>
<text x="365.99" y="356.40" font-size="6.2" fill="#333" stroke="#333" stroke-width="0.12" textLength="3.63" lengthAdjust="spacingAndGlyphs" >5</text>
<line x1="373.00" y1="337.30" x2="375.70" y2="337.30" stroke="#222" stroke-width="1.0" />
<text x="357.30" y="339.90" font-size="9.0" fill="#333" stroke="#333" stroke-width="0.28" textLength="8.23" lengthAdjust="spacingAndGlyphs" >10</text>
<text x="365.92" y="335.40" font-size="6.2" fill="#333" stroke="#333" stroke-width="0.12" textLength="3.71" lengthAdjust="spacingAndGlyphs" >6</text>
<line x1="375.10" y1="421.50" x2="486.30" y2="421.50" stroke="#222" stroke-width="1.25" />
<line x1="387.40" y1="421.50" x2="387.40" y2="424.10" stroke="#222" stroke-width="1.0" />
<line x1="404.60" y1="421.50" x2="404.60" y2="424.10" stroke="#222" stroke-width="1.0" />
<line x1="422.30" y1="421.50" x2="422.30" y2="424.10" stroke="#222" stroke-width="1.0" />
<line x1="439.50" y1="421.50" x2="439.50" y2="424.10" stroke="#222" stroke-width="1.0" />
<line x1="457.20" y1="421.50" x2="457.20" y2="424.10" stroke="#222" stroke-width="1.0" />
<line x1="474.50" y1="421.50" x2="474.50" y2="424.10" stroke="#222" stroke-width="1.0" />
<text transform="translate(351.00,421.90) rotate(-90)" x="0.09" y="0" font-size="9.6" fill="#333" stroke="#333" stroke-width="0.28" textLength="87.49" lengthAdjust="spacingAndGlyphs">Total cell count in spleen</text>
<text x="380.71" y="434.20" font-size="9.0" fill="#333" stroke="#333" stroke-width="0.28" textLength="13.86" lengthAdjust="spacingAndGlyphs" >Veh</text>
<text x="395.80" y="434.20" font-size="9.0" fill="#333" stroke="#333" stroke-width="0.28" textLength="17.23" lengthAdjust="spacingAndGlyphs" >NRX</text>
<text x="415.61" y="434.20" font-size="9.0" fill="#333" stroke="#333" stroke-width="0.28" textLength="13.86" lengthAdjust="spacingAndGlyphs" >Veh</text>
<text x="430.79" y="434.20" font-size="9.0" fill="#333" stroke="#333" stroke-width="0.28" textLength="17.33" lengthAdjust="spacingAndGlyphs" >NRX</text>
<text x="450.21" y="434.20" font-size="9.0" fill="#333" stroke="#333" stroke-width="0.28" textLength="14.38" lengthAdjust="spacingAndGlyphs" >Veh</text>
<text x="465.39" y="434.20" font-size="9.0" fill="#333" stroke="#333" stroke-width="0.28" textLength="17.33" lengthAdjust="spacingAndGlyphs" >NRX</text>
<line x1="386.90" y1="439.20" x2="405.70" y2="439.20" stroke="#222" stroke-width="1.0" />
<line x1="422.00" y1="439.20" x2="440.80" y2="439.20" stroke="#222" stroke-width="1.0" />
<line x1="456.60" y1="439.20" x2="475.40" y2="439.20" stroke="#222" stroke-width="1.0" />
<text x="382.92" y="450.00" font-size="9.0" fill="#333" stroke="#333" stroke-width="0.28" textLength="27.27" lengthAdjust="spacingAndGlyphs" >CD45+</text>
<text x="421.58" y="450.00" font-size="9.0" fill="#333" stroke="#333" stroke-width="0.28" textLength="19.82" lengthAdjust="spacingAndGlyphs" >T cell</text>
<text x="451.33" y="450.00" font-size="9.8" fill="#333" stroke="#333" stroke-width="0.28" textLength="30.18" lengthAdjust="spacingAndGlyphs" >CLL cell</text>
<text x="392.63" y="341.20" font-size="8.6" fill="#333" stroke="#333" stroke-width="0.28" textLength="8.49" lengthAdjust="spacingAndGlyphs" font-style="italic" >ns</text>
<line x1="387.80" y1="344.50" x2="404.90" y2="344.50" stroke="#222" stroke-width="1.0" />
<text x="425.64" y="343.80" font-size="8.6" fill="#333" stroke="#333" stroke-width="0.28" textLength="7.77" lengthAdjust="spacingAndGlyphs" font-style="italic" >ns</text>
<line x1="420.10" y1="346.80" x2="437.60" y2="346.80" stroke="#222" stroke-width="1.0" />
<text x="449.50" y="368.30" font-size="8.4" fill="#444" stroke="#444" stroke-width="0.28" textLength="31.13" lengthAdjust="spacingAndGlyphs"><tspan font-style="italic">P</tspan> = .001</text>
<line x1="456.20" y1="371.40" x2="473.70" y2="371.40" stroke="#484848" stroke-width="1.2" />
<circle cx="382.50" cy="350.60" r="1.3" fill="none" stroke="#b8243f" stroke-width="1.0"/>
<circle cx="385.50" cy="350.60" r="1.3" fill="none" stroke="#b8243f" stroke-width="1.0"/>
<circle cx="388.50" cy="350.30" r="1.3" fill="none" stroke="#b8243f" stroke-width="1.0"/>
<circle cx="391.50" cy="350.60" r="1.3" fill="none" stroke="#b8243f" stroke-width="1.0"/>
<circle cx="387.10" cy="353.90" r="1.3" fill="none" stroke="#b8243f" stroke-width="1.0"/>
<line x1="381.00" y1="350.80" x2="393.20" y2="350.80" stroke="#5e1624" stroke-width="1.0" />
<circle cx="400.40" cy="350.00" r="1.15" fill="#1c4470"/>
<circle cx="402.60" cy="349.40" r="1.15" fill="#1c4470"/>
<circle cx="404.60" cy="349.00" r="1.15" fill="#1c4470"/>
<circle cx="406.80" cy="349.60" r="1.15" fill="#1c4470"/>
<circle cx="409.20" cy="350.00" r="1.15" fill="#1c4470"/>
<circle cx="404.60" cy="354.90" r="1.15" fill="#1c4470"/>
<line x1="399.00" y1="350.40" x2="410.20" y2="350.40" stroke="#16253b" stroke-width="1.1" />
<line x1="404.60" y1="349.20" x2="404.60" y2="351.60" stroke="#16253b" stroke-width="1.15" />
<line x1="402.00" y1="349.20" x2="407.20" y2="349.20" stroke="#16253b" stroke-width="1.15" />
<line x1="402.00" y1="351.60" x2="407.20" y2="351.60" stroke="#16253b" stroke-width="1.15" />
<path d="M417.50,350.20 L419.30,353.44 L415.70,353.44 Z" fill="none" stroke="#b8243f" stroke-width="0.9"/>
<path d="M420.50,349.70 L422.30,352.94 L418.70,352.94 Z" fill="none" stroke="#b8243f" stroke-width="0.9"/>
<path d="M423.50,349.20 L425.30,352.44 L421.70,352.44 Z" fill="none" stroke="#b8243f" stroke-width="0.9"/>
<path d="M426.50,350.20 L428.30,353.44 L424.70,353.44 Z" fill="none" stroke="#b8243f" stroke-width="0.9"/>
<path d="M416.80,354.80 L418.60,358.04 L415.00,358.04 Z" fill="none" stroke="#b8243f" stroke-width="0.9"/>
<path d="M426.70,354.80 L428.50,358.04 L424.90,358.04 Z" fill="none" stroke="#b8243f" stroke-width="0.9"/>
<line x1="416.00" y1="352.60" x2="428.20" y2="352.60" stroke="#5e1624" stroke-width="1.0" />
<rect x="433.30" y="348.90" width="2.6" height="2.6" fill="#1c4470"/>
<rect x="435.90" y="349.70" width="2.6" height="2.6" fill="#1c4470"/>
<rect x="438.70" y="349.30" width="2.6" height="2.6" fill="#1c4470"/>
<rect x="441.30" y="348.70" width="2.6" height="2.6" fill="#1c4470"/>
<rect x="443.70" y="349.10" width="2.6" height="2.6" fill="#1c4470"/>
<rect x="433.50" y="352.90" width="2.6" height="2.6" fill="#1c4470"/>
<rect x="443.70" y="352.70" width="2.6" height="2.6" fill="#1c4470"/>
<rect x="438.70" y="352.30" width="2.6" height="2.6" fill="#1c4470"/>
<line x1="434.00" y1="352.00" x2="446.00" y2="352.00" stroke="#16253b" stroke-width="1.1" />
<line x1="440.00" y1="349.60" x2="440.00" y2="354.40" stroke="#16253b" stroke-width="1.15" />
<line x1="435.00" y1="349.60" x2="445.00" y2="349.60" stroke="#16253b" stroke-width="1.15" />
<line x1="435.00" y1="354.40" x2="445.00" y2="354.40" stroke="#16253b" stroke-width="1.15" />
<circle cx="453.50" cy="378.00" r="1.5" fill="none" stroke="#b8243f" stroke-width="1.0"/>
<circle cx="460.00" cy="378.00" r="1.5" fill="none" stroke="#b8243f" stroke-width="1.0"/>
<circle cx="453.50" cy="384.00" r="1.5" fill="none" stroke="#b8243f" stroke-width="1.0"/>
<circle cx="460.00" cy="384.00" r="1.5" fill="none" stroke="#b8243f" stroke-width="1.0"/>
<circle cx="456.70" cy="381.00" r="1.5" fill="none" stroke="#b8243f" stroke-width="1.0"/>
<circle cx="454.50" cy="381.50" r="1.5" fill="none" stroke="#b8243f" stroke-width="1.0"/>
<line x1="450.70" y1="380.70" x2="462.70" y2="380.70" stroke="#5e1624" stroke-width="1.1" />
<line x1="456.70" y1="378.50" x2="456.70" y2="383.50" stroke="#5e1624" stroke-width="1.15" />
<line x1="454.20" y1="378.50" x2="459.20" y2="378.50" stroke="#5e1624" stroke-width="1.15" />
<line x1="454.20" y1="383.50" x2="459.20" y2="383.50" stroke="#5e1624" stroke-width="1.15" />
<circle cx="471.60" cy="388.90" r="1.0" fill="#1c4470"/>
<circle cx="474.50" cy="392.00" r="1.0" fill="#1c4470"/>
<circle cx="477.50" cy="393.00" r="1.0" fill="#1c4470"/>
<circle cx="474.50" cy="417.00" r="1.0" fill="#1c4470"/>
<line x1="468.50" y1="393.50" x2="480.50" y2="393.50" stroke="#16253b" stroke-width="1.1" />
<line x1="474.50" y1="391.00" x2="474.50" y2="396.60" stroke="#16253b" stroke-width="1.15" />
<line x1="471.50" y1="391.00" x2="477.50" y2="391.00" stroke="#16253b" stroke-width="1.15" />
<line x1="471.50" y1="396.60" x2="477.50" y2="396.60" stroke="#16253b" stroke-width="1.15" />
</g>
</svg>
</body></html>
